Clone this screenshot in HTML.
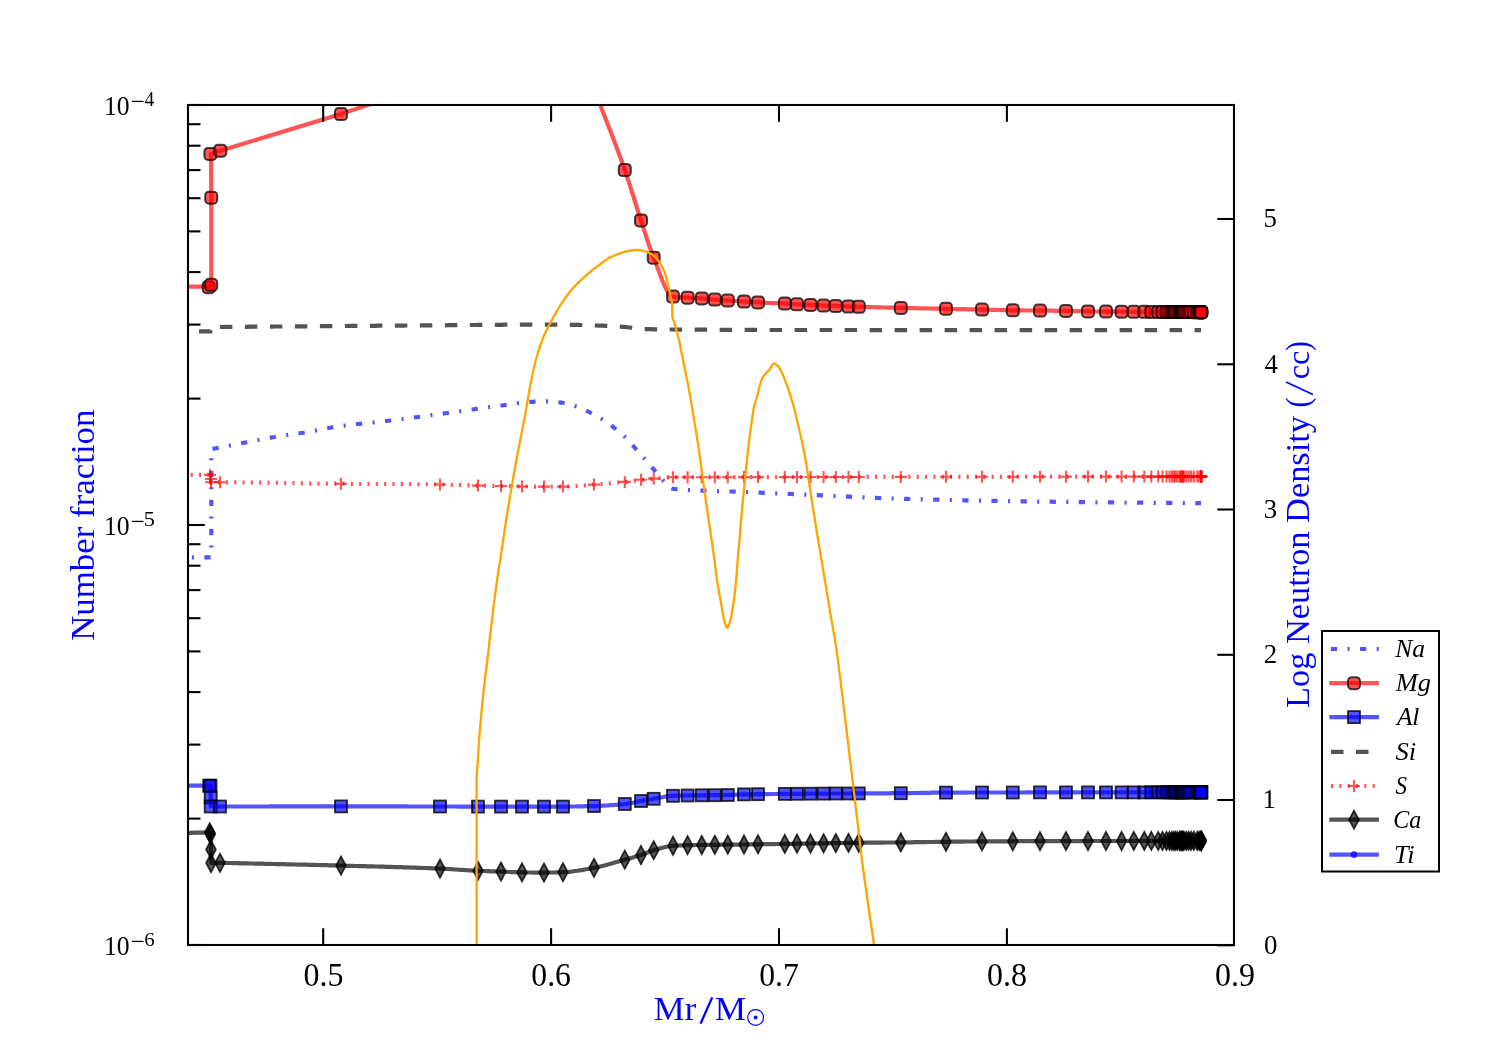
<!DOCTYPE html>
<html><head><meta charset="utf-8"><title>plot</title>
<style>html,body{margin:0;padding:0;background:#fff;width:1500px;height:1050px;overflow:hidden;position:relative;font-family:"Liberation Serif",serif}</style>
</head><body>
<svg width="1500" height="1050" viewBox="0 0 1500 1050" style="position:absolute;left:0;top:0;will-change:transform">
<defs><clipPath id="ax"><rect x="188" y="105" width="1046" height="840"/></clipPath></defs>
<rect width="1500" height="1050" fill="#fff"/>
<g clip-path="url(#ax)">
<path d="M188.0,557.3 L211.3,557.3 L211.3,449.0 L212.0,449.0 L214.0,448.6 L216.0,448.3 L218.0,447.9 L220.0,447.5 L222.0,447.1 L224.1,446.7 L226.1,446.3 L228.1,445.9 L230.1,445.5 L232.2,445.1 L234.2,444.7 L236.2,444.3 L238.2,443.9 L240.3,443.5 L242.3,443.1 L244.3,442.7 L246.3,442.3 L248.4,441.8 L250.4,441.4 L252.4,441.0 L254.5,440.6 L256.5,440.2 L258.5,439.9 L260.5,439.5 L262.6,439.1 L264.6,438.7 L266.6,438.4 L268.6,438.0 L270.7,437.6 L272.7,437.3 L274.7,437.0 L276.8,436.6 L278.8,436.3 L280.9,436.0 L282.9,435.7 L285.0,435.4 L287.0,435.1 L289.0,434.8 L291.1,434.5 L293.1,434.2 L295.2,433.9 L297.2,433.6 L299.3,433.3 L301.3,433.0 L303.4,432.7 L305.5,432.3 L307.6,431.9 L309.7,431.5 L311.7,431.2 L313.8,430.8 L315.9,430.4 L318.0,430.0 L320.1,429.6 L322.2,429.2 L324.3,428.8 L326.4,428.4 L328.5,428.0 L330.6,427.6 L332.6,427.3 L334.7,426.9 L336.8,426.6 L338.9,426.3 L341.0,426.0 L343.1,425.7 L345.1,425.5 L347.2,425.2 L349.3,425.0 L351.3,424.7 L353.4,424.5 L355.4,424.3 L357.5,424.0 L359.6,423.8 L361.6,423.6 L363.7,423.4 L365.8,423.2 L367.8,423.0 L369.9,422.8 L372.0,422.6 L374.0,422.4 L376.1,422.1 L378.1,421.9 L380.2,421.7 L382.3,421.5 L384.3,421.2 L386.4,421.0 L388.5,420.8 L390.5,420.5 L392.6,420.3 L394.6,420.0 L396.7,419.7 L398.8,419.5 L400.8,419.2 L402.9,419.0 L405.0,418.7 L407.0,418.4 L409.1,418.2 L411.1,417.9 L413.2,417.6 L415.3,417.3 L417.3,417.1 L419.4,416.8 L421.4,416.5 L423.5,416.2 L425.6,416.0 L427.6,415.7 L429.7,415.4 L431.8,415.1 L433.8,414.8 L435.9,414.6 L437.9,414.3 L440.0,414.0 L442.0,413.7 L444.0,413.4 L446.0,413.2 L448.0,412.9 L450.0,412.6 L452.0,412.3 L454.0,412.0 L456.0,411.8 L458.0,411.5 L460.0,411.2 L462.0,410.9 L464.0,410.6 L466.0,410.3 L468.0,410.0 L470.0,409.8 L472.0,409.5 L474.0,409.2 L476.1,408.9 L478.2,408.6 L480.4,408.3 L482.5,408.0 L484.6,407.7 L486.7,407.4 L488.9,407.2 L491.0,406.9 L493.1,406.6 L495.2,406.3 L497.3,406.0 L499.5,405.7 L501.6,405.5 L503.7,405.2 L505.8,404.9 L507.8,404.7 L509.9,404.4 L511.9,404.1 L514.0,403.8 L516.0,403.5 L518.1,403.2 L520.2,403.0 L522.2,402.7 L524.3,402.5 L526.3,402.3 L528.4,402.1 L530.4,401.9 L532.5,401.8 L534.6,401.7 L536.8,401.6 L538.9,401.5 L541.1,401.4 L543.2,401.4 L545.4,401.3 L547.5,401.3 L549.8,401.4 L552.1,401.5 L554.4,401.7 L556.7,402.0 L559.0,402.3 L561.3,402.6 L563.6,403.0 L565.9,403.4 L568.1,404.0 L570.4,404.6 L572.7,405.3 L575.0,406.0 L577.0,406.7 L579.0,407.4 L581.0,408.3 L583.0,409.2 L585.0,410.1 L587.0,411.0 L589.0,412.0 L591.0,413.0 L593.0,414.0 L595.0,415.1 L597.0,416.2 L599.0,417.3 L601.0,418.5 L603.1,419.8 L605.2,421.2 L607.3,422.6 L609.4,424.2 L611.5,425.7 L613.6,427.3 L615.9,429.1 L618.2,430.9 L620.4,432.9 L622.7,434.9 L625.0,437.0 L627.5,439.5 L630.0,442.2 L632.4,445.0 L634.9,447.8 L637.2,450.4 L639.6,453.1 L641.9,455.8 L644.3,458.5 L646.7,461.3 L649.1,464.0 L651.5,466.8 L653.9,469.6 L656.3,472.5 L658.7,475.5 L661.1,478.4 L663.5,481.0 L665.6,483.3 L667.8,485.7 L669.9,487.6 L672.0,488.6 L674.1,489.0 L676.3,489.2 L678.4,489.4 L680.6,489.6 L682.7,489.8 L684.9,489.9 L687.0,490.0 L689.0,490.1 L691.0,490.2 L693.0,490.3 L695.0,490.4 L697.0,490.5 L699.0,490.5 L701.0,490.6 L703.0,490.7 L705.0,490.7 L707.0,490.8 L709.0,490.9 L711.0,490.9 L713.0,491.0 L715.0,491.0 L717.0,491.1 L719.0,491.2 L721.0,491.2 L723.0,491.3 L725.0,491.3 L727.0,491.4 L729.0,491.5 L731.0,491.5 L733.0,491.6 L735.0,491.7 L737.0,491.8 L739.0,491.8 L741.0,491.9 L743.0,492.0 L745.0,492.1 L747.0,492.1 L749.0,492.2 L751.0,492.3 L753.0,492.4 L755.0,492.5 L757.0,492.5 L759.0,492.6 L761.0,492.7 L763.0,492.8 L765.0,492.9 L767.0,493.0 L769.0,493.0 L771.0,493.1 L773.0,493.2 L775.0,493.3 L777.0,493.4 L779.0,493.5 L781.0,493.5 L783.0,493.6 L785.0,493.7 L787.0,493.8 L789.0,493.9 L791.0,494.0 L793.0,494.1 L795.0,494.1 L797.0,494.2 L799.0,494.3 L801.0,494.4 L803.0,494.5 L805.0,494.6 L807.0,494.7 L809.0,494.8 L811.0,494.8 L813.0,494.9 L815.0,495.0 L817.0,495.1 L819.0,495.2 L821.1,495.3 L823.1,495.4 L825.2,495.5 L827.2,495.6 L829.3,495.7 L831.4,495.8 L833.4,495.9 L835.5,496.0 L837.6,496.1 L839.6,496.2 L841.7,496.3 L843.7,496.4 L845.8,496.5 L847.9,496.6 L849.9,496.7 L852.0,496.8 L854.1,496.9 L856.1,497.0 L858.2,497.1 L860.2,497.2 L862.3,497.3 L864.4,497.4 L866.4,497.5 L868.5,497.6 L870.6,497.7 L872.6,497.8 L874.7,497.8 L876.7,497.9 L878.8,498.0 L880.9,498.1 L882.9,498.1 L885.0,498.2 L887.0,498.3 L889.1,498.4 L891.2,498.4 L893.2,498.5 L895.3,498.6 L897.3,498.6 L899.4,498.7 L901.5,498.8 L903.5,498.8 L905.6,498.9 L907.6,498.9 L909.7,499.0 L911.8,499.1 L913.8,499.1 L915.9,499.2 L918.0,499.2 L920.0,499.3 L922.1,499.3 L924.1,499.4 L926.2,499.4 L928.3,499.5 L930.3,499.5 L932.4,499.6 L934.4,499.6 L936.5,499.7 L938.5,499.7 L940.6,499.8 L942.6,499.8 L944.7,499.9 L946.7,499.9 L948.8,500.0 L950.8,500.0 L952.9,500.1 L954.9,500.1 L957.0,500.2 L959.0,500.2 L961.1,500.3 L963.1,500.3 L965.2,500.4 L967.2,500.4 L969.3,500.4 L971.3,500.5 L973.4,500.5 L975.4,500.6 L977.5,500.6 L979.5,500.6 L981.6,500.7 L983.6,500.7 L985.7,500.8 L987.7,500.8 L989.8,500.8 L991.8,500.9 L993.9,500.9 L995.9,500.9 L998.0,501.0 L1000.0,501.0 L1002.0,501.0 L1004.0,501.1 L1006.0,501.1 L1008.0,501.1 L1010.0,501.2 L1012.0,501.2 L1014.0,501.2 L1016.0,501.2 L1018.0,501.3 L1020.0,501.3 L1022.0,501.3 L1024.0,501.4 L1026.0,501.4 L1028.0,501.4 L1030.0,501.5 L1032.0,501.5 L1034.0,501.5 L1036.0,501.5 L1038.0,501.6 L1040.0,501.6 L1042.0,501.6 L1044.0,501.6 L1046.0,501.7 L1048.0,501.7 L1050.0,501.7 L1052.0,501.7 L1054.0,501.8 L1056.0,501.8 L1058.0,501.8 L1060.0,501.8 L1062.0,501.9 L1064.0,501.9 L1066.0,501.9 L1068.0,501.9 L1070.0,502.0 L1072.0,502.0 L1074.0,502.0 L1076.0,502.0 L1078.0,502.1 L1080.0,502.1 L1082.0,502.1 L1084.0,502.1 L1086.0,502.1 L1088.0,502.2 L1090.0,502.2 L1092.0,502.2 L1094.0,502.2 L1096.0,502.3 L1098.0,502.3 L1100.0,502.3 L1102.0,502.3 L1104.0,502.3 L1106.1,502.4 L1108.1,502.4 L1110.1,502.4 L1112.1,502.4 L1114.1,502.4 L1116.2,502.5 L1118.2,502.5 L1120.2,502.5 L1122.2,502.5 L1124.2,502.5 L1126.3,502.6 L1128.3,502.6 L1130.3,502.6 L1132.3,502.6 L1134.3,502.6 L1136.4,502.6 L1138.4,502.7 L1140.4,502.7 L1142.4,502.7 L1144.4,502.7 L1146.5,502.7 L1148.5,502.8 L1150.5,502.8 L1152.5,502.8 L1154.5,502.8 L1156.6,502.8 L1158.6,502.8 L1160.6,502.9 L1162.6,502.9 L1164.6,502.9 L1166.7,502.9 L1168.7,502.9 L1170.7,502.9 L1172.7,503.0 L1174.7,503.0 L1176.8,503.0 L1178.8,503.0 L1180.8,503.0 L1182.8,503.0 L1184.8,503.1 L1186.9,503.1 L1188.9,503.1 L1190.9,503.1 L1192.9,503.1 L1194.9,503.1 L1197.0,503.2 L1199.0,503.2 L1201.0,503.2" fill="none" stroke="#0000ff" stroke-opacity="0.67" stroke-width="4.17" stroke-dasharray="6.25 10.4 2.08 10.4" stroke-dashoffset="12.8"/>
<path d="M188.0,286.7 L209.0,286.7 L211.3,285.0 L211.3,197.7 L211.0,154.0 L220.3,150.7 L341.0,114.0 L400.0,94.2" fill="none" stroke="#ff0000" stroke-opacity="0.67" stroke-width="4.17" stroke-linejoin="round"/>
<path d="M591.5,80.0 L593.7,86.3 L595.9,92.6 L598.1,98.9 L600.3,105.0 L602.3,110.4 L604.4,115.7 L606.4,120.8 L608.4,126.0 L610.5,131.2 L612.5,136.5 L614.5,141.9 L616.6,147.4 L618.6,152.9 L620.7,158.5 L622.8,164.2 L624.8,170.0 L626.8,176.0 L628.9,182.3 L630.9,188.6 L633.0,195.1 L635.0,201.6 L637.0,208.1 L639.1,214.5 L641.1,220.7 L643.2,227.1 L645.3,233.6 L647.4,240.1 L649.5,246.4 L651.6,252.3 L653.7,257.7 L655.8,263.1 L657.9,268.7 L660.0,274.5 L662.1,280.0 L664.3,285.1 L666.4,289.6 L668.5,293.1 L670.6,295.5 L672.7,296.6 L674.8,296.9 L676.9,297.1 L679.0,297.2 L681.2,297.4 L683.3,297.5 L685.4,297.6 L687.5,297.7 L689.5,297.8 L691.6,297.9 L693.6,298.0 L695.6,298.1 L697.6,298.2 L699.7,298.3 L701.7,298.4 L703.8,298.6 L706.0,298.7 L708.1,298.9 L710.2,299.1 L712.4,299.3 L714.5,299.5 L716.7,299.7 L718.9,299.9 L721.1,300.0 L723.3,300.2 L725.5,300.3 L727.7,300.5 L729.8,300.6 L731.8,300.8 L733.9,300.9 L736.0,301.0 L738.0,301.1 L740.1,301.3 L742.1,301.4 L744.2,301.5 L746.5,301.6 L748.8,301.8 L751.1,302.0 L753.4,302.1 L755.7,302.3 L758.0,302.4 L760.1,302.5 L762.1,302.6 L764.2,302.7 L766.3,302.8 L768.3,302.9 L770.4,303.0 L772.5,303.1 L774.6,303.1 L776.6,303.2 L778.7,303.3 L780.8,303.4 L782.8,303.5 L784.9,303.6 L786.9,303.7 L788.9,303.8 L791.0,304.0 L793.0,304.1 L795.0,304.2 L797.0,304.3 L799.2,304.4 L801.5,304.5 L803.7,304.6 L805.9,304.7 L808.2,304.8 L810.4,304.9 L812.6,305.0 L814.8,305.1 L817.0,305.3 L819.2,305.4 L821.4,305.5 L823.6,305.6 L825.6,305.7 L827.6,305.7 L829.7,305.8 L831.7,305.9 L833.7,305.9 L835.7,306.0 L837.9,306.1 L840.0,306.2 L842.2,306.3 L844.4,306.3 L846.5,306.4 L848.7,306.5 L851.2,306.6 L853.7,306.7 L856.1,306.7 L858.6,306.8 L860.6,306.9 L862.6,306.9 L864.6,307.0 L866.6,307.0 L868.6,307.1 L870.6,307.1 L872.6,307.2 L874.6,307.2 L876.6,307.3 L878.6,307.4 L880.7,307.4 L882.7,307.5 L884.7,307.5 L886.7,307.6 L888.7,307.6 L890.7,307.7 L892.7,307.7 L894.7,307.8 L896.7,307.8 L898.7,307.9 L900.7,307.9 L902.8,307.9 L904.8,308.0 L906.9,308.0 L908.9,308.1 L911.0,308.1 L913.0,308.2 L915.1,308.2 L917.1,308.2 L919.1,308.3 L921.2,308.3 L923.2,308.4 L925.3,308.4 L927.4,308.4 L929.4,308.5 L931.4,308.5 L933.5,308.6 L935.5,308.6 L937.6,308.6 L939.6,308.7 L941.7,308.7 L943.8,308.8 L945.8,308.8 L947.8,308.8 L949.8,308.9 L951.8,308.9 L953.8,309.0 L955.9,309.0 L957.9,309.1 L959.9,309.1 L961.9,309.1 L963.9,309.2 L965.9,309.2 L967.9,309.3 L969.9,309.3 L971.9,309.4 L974.0,309.4 L976.0,309.5 L978.0,309.5 L980.0,309.6 L982.0,309.6 L984.1,309.6 L986.1,309.7 L988.2,309.7 L990.2,309.8 L992.3,309.8 L994.3,309.9 L996.4,310.0 L998.4,310.0 L1000.5,310.1 L1002.5,310.1 L1004.6,310.1 L1006.6,310.2 L1008.7,310.2 L1010.7,310.3 L1012.8,310.3 L1014.9,310.3 L1017.0,310.4 L1019.0,310.4 L1021.1,310.4 L1023.2,310.4 L1025.3,310.5 L1027.3,310.5 L1029.4,310.5 L1031.5,310.5 L1033.6,310.5 L1035.6,310.6 L1037.7,310.6 L1039.8,310.6 L1042.0,310.6 L1044.1,310.6 L1046.2,310.7 L1048.4,310.7 L1050.5,310.7 L1052.7,310.7 L1054.8,310.8 L1057.0,310.8 L1059.1,310.8 L1061.3,310.8 L1063.4,310.9 L1065.6,310.9 L1067.8,310.9 L1070.0,311.0 L1072.1,311.0 L1074.3,311.1 L1076.5,311.2 L1078.7,311.2 L1080.9,311.3 L1083.0,311.3 L1085.2,311.4 L1087.4,311.4 L1089.5,311.4 L1091.5,311.5 L1093.6,311.5 L1095.7,311.5 L1097.7,311.5 L1099.8,311.5 L1101.9,311.6 L1103.9,311.6 L1106.0,311.6 L1108.0,311.6 L1110.1,311.6 L1112.1,311.6 L1114.1,311.7 L1116.1,311.7 L1118.2,311.7 L1120.2,311.7 L1122.2,311.7 L1124.2,311.7 L1126.3,311.8 L1128.3,311.8 L1130.3,311.8 L1132.3,311.8 L1134.4,311.8 L1136.4,311.8 L1138.4,311.8 L1140.4,311.8 L1142.5,311.9 L1144.5,311.9 L1146.5,311.9 L1148.5,311.9 L1150.6,311.9 L1152.6,311.9 L1154.6,311.9 L1156.6,311.9 L1158.7,312.0 L1160.7,312.0 L1162.7,312.0 L1164.7,312.0 L1166.8,312.0 L1168.8,312.0 L1170.8,312.0 L1172.8,312.0 L1174.9,312.0 L1176.9,312.1 L1178.9,312.1 L1180.9,312.1 L1183.0,312.1 L1185.0,312.1 L1187.0,312.1 L1189.0,312.1 L1191.1,312.1 L1193.1,312.2 L1195.1,312.2 L1197.1,312.2 L1199.2,312.2 L1201.2,312.2" fill="none" stroke="#ff0000" stroke-opacity="0.67" stroke-width="4.17" stroke-linejoin="round"/>
<rect x="202.7" y="281.2" width="12" height="12" rx="3.6" fill="#ff0000" fill-opacity="0.67" stroke="#000" stroke-opacity="0.72" stroke-width="2"/>
<rect x="205.2" y="278.8" width="12" height="12" rx="3.6" fill="#ff0000" fill-opacity="0.67" stroke="#000" stroke-opacity="0.72" stroke-width="2"/>
<rect x="205.2" y="191.7" width="12" height="12" rx="3.6" fill="#ff0000" fill-opacity="0.67" stroke="#000" stroke-opacity="0.72" stroke-width="2"/>
<rect x="204.4" y="147.9" width="12" height="12" rx="3.6" fill="#ff0000" fill-opacity="0.67" stroke="#000" stroke-opacity="0.72" stroke-width="2"/>
<rect x="214.3" y="144.7" width="12" height="12" rx="3.6" fill="#ff0000" fill-opacity="0.67" stroke="#000" stroke-opacity="0.72" stroke-width="2"/>
<rect x="335.0" y="108.0" width="12" height="12" rx="3.6" fill="#ff0000" fill-opacity="0.67" stroke="#000" stroke-opacity="0.72" stroke-width="2"/>
<rect x="618.8" y="164.0" width="12" height="12" rx="3.6" fill="#ff0000" fill-opacity="0.67" stroke="#000" stroke-opacity="0.72" stroke-width="2"/>
<rect x="635.0" y="214.4" width="12" height="12" rx="3.6" fill="#ff0000" fill-opacity="0.67" stroke="#000" stroke-opacity="0.72" stroke-width="2"/>
<rect x="647.7" y="251.7" width="12" height="12" rx="3.6" fill="#ff0000" fill-opacity="0.67" stroke="#000" stroke-opacity="0.72" stroke-width="2"/>
<rect x="667.0" y="290.6" width="12" height="12" rx="3.6" fill="#ff0000" fill-opacity="0.67" stroke="#000" stroke-opacity="0.72" stroke-width="2"/>
<rect x="681.6" y="291.7" width="12" height="12" rx="3.6" fill="#ff0000" fill-opacity="0.67" stroke="#000" stroke-opacity="0.72" stroke-width="2"/>
<rect x="695.8" y="292.4" width="12" height="12" rx="3.6" fill="#ff0000" fill-opacity="0.67" stroke="#000" stroke-opacity="0.72" stroke-width="2"/>
<rect x="708.8" y="293.5" width="12" height="12" rx="3.6" fill="#ff0000" fill-opacity="0.67" stroke="#000" stroke-opacity="0.72" stroke-width="2"/>
<rect x="721.8" y="294.5" width="12" height="12" rx="3.6" fill="#ff0000" fill-opacity="0.67" stroke="#000" stroke-opacity="0.72" stroke-width="2"/>
<rect x="738.0" y="295.5" width="12" height="12" rx="3.6" fill="#ff0000" fill-opacity="0.67" stroke="#000" stroke-opacity="0.72" stroke-width="2"/>
<rect x="752.0" y="296.4" width="12" height="12" rx="3.6" fill="#ff0000" fill-opacity="0.67" stroke="#000" stroke-opacity="0.72" stroke-width="2"/>
<rect x="778.8" y="297.6" width="12" height="12" rx="3.6" fill="#ff0000" fill-opacity="0.67" stroke="#000" stroke-opacity="0.72" stroke-width="2"/>
<rect x="791.0" y="298.3" width="12" height="12" rx="3.6" fill="#ff0000" fill-opacity="0.67" stroke="#000" stroke-opacity="0.72" stroke-width="2"/>
<rect x="804.5" y="298.9" width="12" height="12" rx="3.6" fill="#ff0000" fill-opacity="0.67" stroke="#000" stroke-opacity="0.72" stroke-width="2"/>
<rect x="817.6" y="299.6" width="12" height="12" rx="3.6" fill="#ff0000" fill-opacity="0.67" stroke="#000" stroke-opacity="0.72" stroke-width="2"/>
<rect x="829.8" y="300.0" width="12" height="12" rx="3.6" fill="#ff0000" fill-opacity="0.67" stroke="#000" stroke-opacity="0.72" stroke-width="2"/>
<rect x="842.5" y="300.5" width="12" height="12" rx="3.6" fill="#ff0000" fill-opacity="0.67" stroke="#000" stroke-opacity="0.72" stroke-width="2"/>
<rect x="852.8" y="300.8" width="12" height="12" rx="3.6" fill="#ff0000" fill-opacity="0.67" stroke="#000" stroke-opacity="0.72" stroke-width="2"/>
<rect x="894.8" y="301.9" width="12" height="12" rx="3.6" fill="#ff0000" fill-opacity="0.67" stroke="#000" stroke-opacity="0.72" stroke-width="2"/>
<rect x="940.0" y="302.8" width="12" height="12" rx="3.6" fill="#ff0000" fill-opacity="0.67" stroke="#000" stroke-opacity="0.72" stroke-width="2"/>
<rect x="976.0" y="303.6" width="12" height="12" rx="3.6" fill="#ff0000" fill-opacity="0.67" stroke="#000" stroke-opacity="0.72" stroke-width="2"/>
<rect x="1006.8" y="304.3" width="12" height="12" rx="3.6" fill="#ff0000" fill-opacity="0.67" stroke="#000" stroke-opacity="0.72" stroke-width="2"/>
<rect x="1034.0" y="304.6" width="12" height="12" rx="3.6" fill="#ff0000" fill-opacity="0.67" stroke="#000" stroke-opacity="0.72" stroke-width="2"/>
<rect x="1060.0" y="304.9" width="12" height="12" rx="3.6" fill="#ff0000" fill-opacity="0.67" stroke="#000" stroke-opacity="0.72" stroke-width="2"/>
<rect x="1082.0" y="305.4" width="12" height="12" rx="3.6" fill="#ff0000" fill-opacity="0.67" stroke="#000" stroke-opacity="0.72" stroke-width="2"/>
<rect x="1100.0" y="305.6" width="12" height="12" rx="3.6" fill="#ff0000" fill-opacity="0.67" stroke="#000" stroke-opacity="0.72" stroke-width="2"/>
<rect x="1115.6" y="305.7" width="12" height="12" rx="3.6" fill="#ff0000" fill-opacity="0.67" stroke="#000" stroke-opacity="0.72" stroke-width="2"/>
<rect x="1127.8" y="305.8" width="12" height="12" rx="3.6" fill="#ff0000" fill-opacity="0.67" stroke="#000" stroke-opacity="0.72" stroke-width="2"/>
<rect x="1138.3" y="305.8" width="12" height="12" rx="3.6" fill="#ff0000" fill-opacity="0.67" stroke="#000" stroke-opacity="0.72" stroke-width="2"/>
<rect x="1145.3" y="305.9" width="12" height="12" rx="3.6" fill="#ff0000" fill-opacity="0.67" stroke="#000" stroke-opacity="0.72" stroke-width="2"/>
<rect x="1152.2" y="305.9" width="12" height="12" rx="3.6" fill="#ff0000" fill-opacity="0.67" stroke="#000" stroke-opacity="0.72" stroke-width="2"/>
<rect x="1156.5" y="306.0" width="12" height="12" rx="3.6" fill="#ff0000" fill-opacity="0.67" stroke="#000" stroke-opacity="0.72" stroke-width="2"/>
<rect x="1160.5" y="306.0" width="12" height="12" rx="3.6" fill="#ff0000" fill-opacity="0.67" stroke="#000" stroke-opacity="0.72" stroke-width="2"/>
<rect x="1163.5" y="306.0" width="12" height="12" rx="3.6" fill="#ff0000" fill-opacity="0.67" stroke="#000" stroke-opacity="0.72" stroke-width="2"/>
<rect x="1165.9" y="306.0" width="12" height="12" rx="3.6" fill="#ff0000" fill-opacity="0.67" stroke="#000" stroke-opacity="0.72" stroke-width="2"/>
<rect x="1167.9" y="306.0" width="12" height="12" rx="3.6" fill="#ff0000" fill-opacity="0.67" stroke="#000" stroke-opacity="0.72" stroke-width="2"/>
<rect x="1169.3" y="306.0" width="12" height="12" rx="3.6" fill="#ff0000" fill-opacity="0.67" stroke="#000" stroke-opacity="0.72" stroke-width="2"/>
<rect x="1171.2" y="306.0" width="12" height="12" rx="3.6" fill="#ff0000" fill-opacity="0.67" stroke="#000" stroke-opacity="0.72" stroke-width="2"/>
<rect x="1173.5" y="306.1" width="12" height="12" rx="3.6" fill="#ff0000" fill-opacity="0.67" stroke="#000" stroke-opacity="0.72" stroke-width="2"/>
<rect x="1174.5" y="306.1" width="12" height="12" rx="3.6" fill="#ff0000" fill-opacity="0.67" stroke="#000" stroke-opacity="0.72" stroke-width="2"/>
<rect x="1175.3" y="306.1" width="12" height="12" rx="3.6" fill="#ff0000" fill-opacity="0.67" stroke="#000" stroke-opacity="0.72" stroke-width="2"/>
<rect x="1176.2" y="306.1" width="12" height="12" rx="3.6" fill="#ff0000" fill-opacity="0.67" stroke="#000" stroke-opacity="0.72" stroke-width="2"/>
<rect x="1177.0" y="306.1" width="12" height="12" rx="3.6" fill="#ff0000" fill-opacity="0.67" stroke="#000" stroke-opacity="0.72" stroke-width="2"/>
<rect x="1177.9" y="306.1" width="12" height="12" rx="3.6" fill="#ff0000" fill-opacity="0.67" stroke="#000" stroke-opacity="0.72" stroke-width="2"/>
<rect x="1180.3" y="306.1" width="12" height="12" rx="3.6" fill="#ff0000" fill-opacity="0.67" stroke="#000" stroke-opacity="0.72" stroke-width="2"/>
<rect x="1182.7" y="306.1" width="12" height="12" rx="3.6" fill="#ff0000" fill-opacity="0.67" stroke="#000" stroke-opacity="0.72" stroke-width="2"/>
<rect x="1185.1" y="306.1" width="12" height="12" rx="3.6" fill="#ff0000" fill-opacity="0.67" stroke="#000" stroke-opacity="0.72" stroke-width="2"/>
<rect x="1187.9" y="306.2" width="12" height="12" rx="3.6" fill="#ff0000" fill-opacity="0.67" stroke="#000" stroke-opacity="0.72" stroke-width="2"/>
<rect x="1191.3" y="306.2" width="12" height="12" rx="3.6" fill="#ff0000" fill-opacity="0.67" stroke="#000" stroke-opacity="0.72" stroke-width="2"/>
<rect x="1193.2" y="306.2" width="12" height="12" rx="3.6" fill="#ff0000" fill-opacity="0.67" stroke="#000" stroke-opacity="0.72" stroke-width="2"/>
<rect x="1195.2" y="306.2" width="12" height="12" rx="3.6" fill="#ff0000" fill-opacity="0.67" stroke="#000" stroke-opacity="0.72" stroke-width="2"/>
<rect x="1195.2" y="306.2" width="12" height="12" rx="3.6" fill="#ff0000" fill-opacity="0.67" stroke="#000" stroke-opacity="0.72" stroke-width="2"/>
<rect x="1195.2" y="306.2" width="12" height="12" rx="3.6" fill="#ff0000" fill-opacity="0.67" stroke="#000" stroke-opacity="0.72" stroke-width="2"/>
<rect x="1195.2" y="306.2" width="12" height="12" rx="3.6" fill="#ff0000" fill-opacity="0.67" stroke="#000" stroke-opacity="0.72" stroke-width="2"/>
<rect x="1195.2" y="306.2" width="12" height="12" rx="3.6" fill="#ff0000" fill-opacity="0.67" stroke="#000" stroke-opacity="0.72" stroke-width="2"/>
<rect x="1195.2" y="306.2" width="12" height="12" rx="3.6" fill="#ff0000" fill-opacity="0.67" stroke="#000" stroke-opacity="0.72" stroke-width="2"/>
<path d="M188.0,785.7 L209.2,785.7 L210.5,785.7 L210.7,797.5 L210.7,806.5 L220.0,806.5 L222.0,806.5 L224.0,806.5 L226.1,806.5 L228.1,806.5 L230.1,806.5 L232.1,806.5 L234.1,806.5 L236.1,806.5 L238.2,806.5 L240.2,806.5 L242.2,806.5 L244.2,806.5 L246.2,806.5 L248.2,806.5 L250.2,806.5 L252.3,806.5 L254.3,806.5 L256.3,806.5 L258.3,806.5 L260.3,806.5 L262.4,806.5 L264.4,806.5 L266.4,806.5 L268.4,806.5 L270.4,806.4 L272.4,806.4 L274.4,806.4 L276.5,806.4 L278.5,806.4 L280.5,806.4 L282.5,806.4 L284.5,806.4 L286.6,806.4 L288.6,806.4 L290.6,806.4 L292.6,806.4 L294.6,806.4 L296.6,806.4 L298.6,806.4 L300.7,806.4 L302.7,806.4 L304.7,806.4 L306.7,806.4 L308.7,806.4 L310.8,806.4 L312.8,806.4 L314.8,806.4 L316.8,806.4 L318.8,806.4 L320.8,806.4 L322.9,806.4 L324.9,806.4 L326.9,806.4 L328.9,806.4 L330.9,806.4 L332.9,806.4 L334.9,806.4 L337.0,806.4 L339.0,806.4 L341.0,806.4 L343.0,806.4 L345.0,806.4 L347.1,806.4 L349.1,806.4 L351.1,806.4 L353.1,806.4 L355.1,806.4 L357.2,806.4 L359.2,806.4 L361.2,806.4 L363.2,806.4 L365.2,806.4 L367.3,806.4 L369.3,806.4 L371.3,806.4 L373.3,806.4 L375.3,806.4 L377.4,806.4 L379.4,806.4 L381.4,806.4 L383.4,806.4 L385.4,806.4 L387.5,806.4 L389.5,806.4 L391.5,806.4 L393.5,806.4 L395.6,806.4 L397.6,806.4 L399.6,806.4 L401.6,806.4 L403.6,806.4 L405.7,806.4 L407.7,806.5 L409.7,806.5 L411.7,806.5 L413.7,806.5 L415.8,806.5 L417.8,806.5 L419.8,806.5 L421.8,806.5 L423.8,806.5 L425.9,806.5 L427.9,806.5 L429.9,806.5 L431.9,806.5 L433.9,806.5 L436.0,806.5 L438.0,806.5 L440.0,806.5 L442.0,806.5 L444.0,806.5 L446.0,806.5 L448.0,806.5 L450.0,806.5 L452.0,806.5 L454.0,806.5 L456.0,806.5 L458.0,806.6 L460.0,806.6 L462.0,806.6 L464.0,806.6 L466.0,806.6 L468.0,806.6 L470.0,806.6 L472.0,806.6 L474.0,806.6 L476.0,806.6 L478.0,806.6 L480.0,806.6 L482.0,806.6 L484.1,806.6 L486.1,806.6 L488.1,806.6 L490.1,806.6 L492.2,806.6 L494.2,806.6 L496.2,806.6 L498.2,806.6 L500.3,806.6 L502.3,806.6 L504.3,806.6 L506.3,806.6 L508.4,806.6 L510.4,806.6 L512.4,806.6 L514.4,806.6 L516.5,806.6 L518.5,806.6 L520.5,806.6 L522.5,806.6 L524.5,806.6 L526.6,806.6 L528.6,806.6 L530.6,806.6 L532.6,806.6 L534.7,806.6 L536.7,806.6 L538.7,806.6 L540.7,806.6 L542.8,806.6 L544.8,806.6 L546.8,806.6 L548.8,806.6 L550.9,806.6 L552.9,806.6 L554.9,806.6 L556.9,806.6 L559.0,806.6 L561.0,806.6 L563.0,806.6 L565.1,806.6 L567.1,806.6 L569.2,806.6 L571.3,806.5 L573.3,806.5 L575.4,806.5 L577.5,806.4 L579.5,806.4 L581.6,806.3 L583.7,806.3 L585.7,806.2 L587.8,806.2 L589.9,806.1 L591.9,806.1 L594.0,806.0 L596.1,805.9 L598.1,805.9 L600.2,805.8 L602.3,805.7 L604.3,805.6 L606.4,805.5 L608.5,805.3 L610.5,805.2 L612.6,805.1 L614.7,804.9 L616.7,804.8 L618.8,804.6 L620.9,804.4 L622.9,804.2 L625.0,804.0 L627.0,803.8 L629.0,803.4 L631.0,803.1 L633.0,802.7 L635.0,802.2 L637.0,801.8 L639.0,801.4 L641.0,801.0 L643.1,800.6 L645.2,800.2 L647.3,799.9 L649.4,799.5 L651.5,799.2 L653.6,798.8 L655.8,798.4 L657.9,798.0 L660.1,797.6 L662.2,797.2 L664.4,796.8 L666.5,796.4 L668.7,796.1 L670.8,795.9 L673.0,795.8 L675.1,795.7 L677.2,795.7 L679.3,795.6 L681.3,795.6 L683.4,795.6 L685.5,795.5 L687.6,795.5 L689.6,795.5 L691.6,795.4 L693.7,795.4 L695.7,795.4 L697.7,795.4 L699.7,795.3 L701.7,795.3 L703.8,795.3 L705.8,795.3 L707.8,795.3 L709.8,795.3 L711.8,795.2 L713.9,795.2 L715.9,795.2 L717.9,795.2 L719.9,795.1 L721.9,795.1 L724.0,795.1 L726.0,795.0 L728.0,795.0 L730.0,794.9 L732.0,794.9 L734.0,794.8 L736.0,794.7 L738.0,794.6 L740.0,794.5 L742.0,794.4 L744.0,794.4 L746.0,794.4 L748.0,794.3 L750.1,794.3 L752.1,794.3 L754.1,794.2 L756.1,794.2 L758.1,794.2 L760.1,794.2 L762.2,794.1 L764.2,794.1 L766.2,794.1 L768.2,794.1 L770.2,794.0 L772.2,794.0 L774.3,794.0 L776.3,794.0 L778.3,793.9 L780.3,793.9 L782.3,793.9 L784.4,793.9 L786.4,793.9 L788.4,793.9 L790.4,793.8 L792.4,793.8 L794.4,793.8 L796.5,793.8 L798.5,793.8 L800.5,793.8 L802.5,793.7 L804.5,793.7 L806.5,793.7 L808.6,793.7 L810.6,793.7 L812.6,793.7 L814.6,793.7 L816.6,793.6 L818.6,793.6 L820.7,793.6 L822.7,793.6 L824.7,793.6 L826.7,793.6 L828.7,793.6 L830.8,793.6 L832.8,793.5 L834.8,793.5 L836.8,793.5 L838.8,793.5 L840.8,793.5 L842.9,793.5 L844.9,793.5 L846.9,793.5 L848.9,793.5 L850.9,793.4 L852.9,793.4 L855.0,793.4 L857.0,793.4 L859.0,793.4 L861.0,793.4 L863.1,793.4 L865.1,793.4 L867.2,793.4 L869.2,793.3 L871.3,793.3 L873.4,793.3 L875.4,793.3 L877.5,793.3 L879.5,793.3 L881.5,793.3 L883.6,793.3 L885.6,793.3 L887.7,793.3 L889.8,793.3 L891.8,793.2 L893.9,793.2 L895.9,793.2 L898.0,793.2 L900.0,793.2 L902.0,793.2 L904.0,793.2 L906.0,793.1 L908.0,793.1 L910.0,793.1 L912.0,793.1 L914.0,793.0 L916.0,793.0 L918.0,793.0 L920.0,792.9 L922.0,792.9 L924.0,792.9 L926.0,792.8 L928.0,792.8 L930.0,792.8 L932.0,792.7 L934.0,792.7 L936.0,792.7 L938.0,792.7 L940.0,792.6 L942.0,792.6 L944.0,792.6 L946.0,792.6 L948.0,792.6 L950.0,792.6 L952.0,792.6 L954.0,792.6 L956.0,792.6 L958.0,792.6 L960.1,792.6 L962.1,792.6 L964.1,792.6 L966.1,792.6 L968.1,792.5 L970.1,792.5 L972.1,792.5 L974.1,792.5 L976.1,792.5 L978.1,792.5 L980.1,792.5 L982.1,792.5 L984.1,792.5 L986.2,792.5 L988.2,792.5 L990.2,792.5 L992.2,792.5 L994.2,792.5 L996.2,792.5 L998.2,792.5 L1000.2,792.5 L1002.2,792.5 L1004.2,792.5 L1006.2,792.5 L1008.2,792.5 L1010.3,792.5 L1012.3,792.5 L1014.3,792.5 L1016.3,792.5 L1018.3,792.5 L1020.3,792.5 L1022.3,792.5 L1024.3,792.5 L1026.3,792.4 L1028.3,792.4 L1030.3,792.4 L1032.3,792.4 L1034.3,792.4 L1036.4,792.4 L1038.4,792.4 L1040.4,792.4 L1042.4,792.4 L1044.4,792.4 L1046.4,792.4 L1048.4,792.4 L1050.4,792.4 L1052.4,792.4 L1054.4,792.4 L1056.4,792.4 L1058.4,792.4 L1060.4,792.4 L1062.5,792.4 L1064.5,792.4 L1066.5,792.4 L1068.5,792.4 L1070.5,792.4 L1072.5,792.4 L1074.5,792.4 L1076.5,792.4 L1078.5,792.4 L1080.5,792.4 L1082.5,792.4 L1084.5,792.4 L1086.6,792.4 L1088.6,792.4 L1090.6,792.4 L1092.6,792.4 L1094.6,792.4 L1096.6,792.4 L1098.6,792.4 L1100.6,792.4 L1102.6,792.4 L1104.6,792.4 L1106.6,792.4 L1108.6,792.4 L1110.6,792.4 L1112.7,792.4 L1114.7,792.4 L1116.7,792.4 L1118.7,792.4 L1120.7,792.4 L1122.7,792.4 L1124.7,792.4 L1126.7,792.4 L1128.7,792.4 L1130.7,792.4 L1132.7,792.4 L1134.7,792.4 L1136.7,792.4 L1138.8,792.4 L1140.8,792.4 L1142.8,792.4 L1144.8,792.4 L1146.8,792.4 L1148.8,792.3 L1150.8,792.3 L1152.8,792.3 L1154.8,792.3 L1156.8,792.3 L1158.8,792.3 L1160.8,792.3 L1162.9,792.3 L1164.9,792.3 L1166.9,792.3 L1168.9,792.3 L1170.9,792.3 L1172.9,792.3 L1174.9,792.3 L1176.9,792.3 L1178.9,792.3 L1180.9,792.3 L1182.9,792.3 L1184.9,792.3 L1186.9,792.3 L1189.0,792.3 L1191.0,792.3 L1193.0,792.3 L1195.0,792.3 L1197.0,792.3 L1199.0,792.3 L1201.0,792.3" fill="none" stroke="#0000ff" stroke-opacity="0.67" stroke-width="4.17" stroke-linejoin="round"/>
<rect x="203.2" y="779.7" width="12" height="12" fill="#0000ff" fill-opacity="0.67" stroke="#000" stroke-opacity="0.8" stroke-width="1.8"/>
<rect x="204.5" y="779.7" width="12" height="12" fill="#0000ff" fill-opacity="0.67" stroke="#000" stroke-opacity="0.8" stroke-width="1.8"/>
<rect x="204.7" y="791.5" width="12" height="12" fill="#0000ff" fill-opacity="0.67" stroke="#000" stroke-opacity="0.8" stroke-width="1.8"/>
<rect x="204.7" y="800.5" width="12" height="12" fill="#0000ff" fill-opacity="0.67" stroke="#000" stroke-opacity="0.8" stroke-width="1.8"/>
<rect x="214.0" y="800.5" width="12" height="12" fill="#0000ff" fill-opacity="0.67" stroke="#000" stroke-opacity="0.8" stroke-width="1.8"/>
<rect x="335.0" y="800.4" width="12" height="12" fill="#0000ff" fill-opacity="0.67" stroke="#000" stroke-opacity="0.8" stroke-width="1.8"/>
<rect x="434.0" y="800.5" width="12" height="12" fill="#0000ff" fill-opacity="0.67" stroke="#000" stroke-opacity="0.8" stroke-width="1.8"/>
<rect x="472.0" y="800.6" width="12" height="12" fill="#0000ff" fill-opacity="0.67" stroke="#000" stroke-opacity="0.8" stroke-width="1.8"/>
<rect x="495.0" y="800.6" width="12" height="12" fill="#0000ff" fill-opacity="0.67" stroke="#000" stroke-opacity="0.8" stroke-width="1.8"/>
<rect x="516.0" y="800.6" width="12" height="12" fill="#0000ff" fill-opacity="0.67" stroke="#000" stroke-opacity="0.8" stroke-width="1.8"/>
<rect x="538.0" y="800.6" width="12" height="12" fill="#0000ff" fill-opacity="0.67" stroke="#000" stroke-opacity="0.8" stroke-width="1.8"/>
<rect x="557.0" y="800.6" width="12" height="12" fill="#0000ff" fill-opacity="0.67" stroke="#000" stroke-opacity="0.8" stroke-width="1.8"/>
<rect x="588.0" y="800.0" width="12" height="12" fill="#0000ff" fill-opacity="0.67" stroke="#000" stroke-opacity="0.8" stroke-width="1.8"/>
<rect x="618.8" y="798.0" width="12" height="12" fill="#0000ff" fill-opacity="0.67" stroke="#000" stroke-opacity="0.8" stroke-width="1.8"/>
<rect x="635.0" y="795.0" width="12" height="12" fill="#0000ff" fill-opacity="0.67" stroke="#000" stroke-opacity="0.8" stroke-width="1.8"/>
<rect x="647.7" y="792.8" width="12" height="12" fill="#0000ff" fill-opacity="0.67" stroke="#000" stroke-opacity="0.8" stroke-width="1.8"/>
<rect x="667.0" y="789.8" width="12" height="12" fill="#0000ff" fill-opacity="0.67" stroke="#000" stroke-opacity="0.8" stroke-width="1.8"/>
<rect x="681.6" y="789.5" width="12" height="12" fill="#0000ff" fill-opacity="0.67" stroke="#000" stroke-opacity="0.8" stroke-width="1.8"/>
<rect x="695.8" y="789.3" width="12" height="12" fill="#0000ff" fill-opacity="0.67" stroke="#000" stroke-opacity="0.8" stroke-width="1.8"/>
<rect x="708.8" y="789.2" width="12" height="12" fill="#0000ff" fill-opacity="0.67" stroke="#000" stroke-opacity="0.8" stroke-width="1.8"/>
<rect x="721.8" y="789.0" width="12" height="12" fill="#0000ff" fill-opacity="0.67" stroke="#000" stroke-opacity="0.8" stroke-width="1.8"/>
<rect x="738.0" y="788.4" width="12" height="12" fill="#0000ff" fill-opacity="0.67" stroke="#000" stroke-opacity="0.8" stroke-width="1.8"/>
<rect x="752.0" y="788.2" width="12" height="12" fill="#0000ff" fill-opacity="0.67" stroke="#000" stroke-opacity="0.8" stroke-width="1.8"/>
<rect x="778.8" y="787.9" width="12" height="12" fill="#0000ff" fill-opacity="0.67" stroke="#000" stroke-opacity="0.8" stroke-width="1.8"/>
<rect x="791.0" y="787.8" width="12" height="12" fill="#0000ff" fill-opacity="0.67" stroke="#000" stroke-opacity="0.8" stroke-width="1.8"/>
<rect x="804.5" y="787.7" width="12" height="12" fill="#0000ff" fill-opacity="0.67" stroke="#000" stroke-opacity="0.8" stroke-width="1.8"/>
<rect x="817.6" y="787.6" width="12" height="12" fill="#0000ff" fill-opacity="0.67" stroke="#000" stroke-opacity="0.8" stroke-width="1.8"/>
<rect x="829.8" y="787.5" width="12" height="12" fill="#0000ff" fill-opacity="0.67" stroke="#000" stroke-opacity="0.8" stroke-width="1.8"/>
<rect x="842.5" y="787.5" width="12" height="12" fill="#0000ff" fill-opacity="0.67" stroke="#000" stroke-opacity="0.8" stroke-width="1.8"/>
<rect x="852.8" y="787.4" width="12" height="12" fill="#0000ff" fill-opacity="0.67" stroke="#000" stroke-opacity="0.8" stroke-width="1.8"/>
<rect x="894.8" y="787.2" width="12" height="12" fill="#0000ff" fill-opacity="0.67" stroke="#000" stroke-opacity="0.8" stroke-width="1.8"/>
<rect x="940.0" y="786.6" width="12" height="12" fill="#0000ff" fill-opacity="0.67" stroke="#000" stroke-opacity="0.8" stroke-width="1.8"/>
<rect x="976.0" y="786.5" width="12" height="12" fill="#0000ff" fill-opacity="0.67" stroke="#000" stroke-opacity="0.8" stroke-width="1.8"/>
<rect x="1006.8" y="786.5" width="12" height="12" fill="#0000ff" fill-opacity="0.67" stroke="#000" stroke-opacity="0.8" stroke-width="1.8"/>
<rect x="1034.0" y="786.4" width="12" height="12" fill="#0000ff" fill-opacity="0.67" stroke="#000" stroke-opacity="0.8" stroke-width="1.8"/>
<rect x="1060.0" y="786.4" width="12" height="12" fill="#0000ff" fill-opacity="0.67" stroke="#000" stroke-opacity="0.8" stroke-width="1.8"/>
<rect x="1082.0" y="786.4" width="12" height="12" fill="#0000ff" fill-opacity="0.67" stroke="#000" stroke-opacity="0.8" stroke-width="1.8"/>
<rect x="1100.0" y="786.4" width="12" height="12" fill="#0000ff" fill-opacity="0.67" stroke="#000" stroke-opacity="0.8" stroke-width="1.8"/>
<rect x="1115.6" y="786.4" width="12" height="12" fill="#0000ff" fill-opacity="0.67" stroke="#000" stroke-opacity="0.8" stroke-width="1.8"/>
<rect x="1127.8" y="786.4" width="12" height="12" fill="#0000ff" fill-opacity="0.67" stroke="#000" stroke-opacity="0.8" stroke-width="1.8"/>
<rect x="1138.3" y="786.4" width="12" height="12" fill="#0000ff" fill-opacity="0.67" stroke="#000" stroke-opacity="0.8" stroke-width="1.8"/>
<rect x="1145.3" y="786.3" width="12" height="12" fill="#0000ff" fill-opacity="0.67" stroke="#000" stroke-opacity="0.8" stroke-width="1.8"/>
<rect x="1152.2" y="786.3" width="12" height="12" fill="#0000ff" fill-opacity="0.67" stroke="#000" stroke-opacity="0.8" stroke-width="1.8"/>
<rect x="1156.5" y="786.3" width="12" height="12" fill="#0000ff" fill-opacity="0.67" stroke="#000" stroke-opacity="0.8" stroke-width="1.8"/>
<rect x="1160.5" y="786.3" width="12" height="12" fill="#0000ff" fill-opacity="0.67" stroke="#000" stroke-opacity="0.8" stroke-width="1.8"/>
<rect x="1163.5" y="786.3" width="12" height="12" fill="#0000ff" fill-opacity="0.67" stroke="#000" stroke-opacity="0.8" stroke-width="1.8"/>
<rect x="1165.9" y="786.3" width="12" height="12" fill="#0000ff" fill-opacity="0.67" stroke="#000" stroke-opacity="0.8" stroke-width="1.8"/>
<rect x="1167.9" y="786.3" width="12" height="12" fill="#0000ff" fill-opacity="0.67" stroke="#000" stroke-opacity="0.8" stroke-width="1.8"/>
<rect x="1169.3" y="786.3" width="12" height="12" fill="#0000ff" fill-opacity="0.67" stroke="#000" stroke-opacity="0.8" stroke-width="1.8"/>
<rect x="1171.2" y="786.3" width="12" height="12" fill="#0000ff" fill-opacity="0.67" stroke="#000" stroke-opacity="0.8" stroke-width="1.8"/>
<rect x="1173.5" y="786.3" width="12" height="12" fill="#0000ff" fill-opacity="0.67" stroke="#000" stroke-opacity="0.8" stroke-width="1.8"/>
<rect x="1174.5" y="786.3" width="12" height="12" fill="#0000ff" fill-opacity="0.67" stroke="#000" stroke-opacity="0.8" stroke-width="1.8"/>
<rect x="1175.3" y="786.3" width="12" height="12" fill="#0000ff" fill-opacity="0.67" stroke="#000" stroke-opacity="0.8" stroke-width="1.8"/>
<rect x="1176.2" y="786.3" width="12" height="12" fill="#0000ff" fill-opacity="0.67" stroke="#000" stroke-opacity="0.8" stroke-width="1.8"/>
<rect x="1177.0" y="786.3" width="12" height="12" fill="#0000ff" fill-opacity="0.67" stroke="#000" stroke-opacity="0.8" stroke-width="1.8"/>
<rect x="1177.9" y="786.3" width="12" height="12" fill="#0000ff" fill-opacity="0.67" stroke="#000" stroke-opacity="0.8" stroke-width="1.8"/>
<rect x="1180.3" y="786.3" width="12" height="12" fill="#0000ff" fill-opacity="0.67" stroke="#000" stroke-opacity="0.8" stroke-width="1.8"/>
<rect x="1182.7" y="786.3" width="12" height="12" fill="#0000ff" fill-opacity="0.67" stroke="#000" stroke-opacity="0.8" stroke-width="1.8"/>
<rect x="1185.1" y="786.3" width="12" height="12" fill="#0000ff" fill-opacity="0.67" stroke="#000" stroke-opacity="0.8" stroke-width="1.8"/>
<rect x="1187.9" y="786.3" width="12" height="12" fill="#0000ff" fill-opacity="0.67" stroke="#000" stroke-opacity="0.8" stroke-width="1.8"/>
<rect x="1191.3" y="786.3" width="12" height="12" fill="#0000ff" fill-opacity="0.67" stroke="#000" stroke-opacity="0.8" stroke-width="1.8"/>
<rect x="1193.2" y="786.3" width="12" height="12" fill="#0000ff" fill-opacity="0.67" stroke="#000" stroke-opacity="0.8" stroke-width="1.8"/>
<rect x="1195.2" y="786.3" width="12" height="12" fill="#0000ff" fill-opacity="0.67" stroke="#000" stroke-opacity="0.8" stroke-width="1.8"/>
<rect x="1195.2" y="786.3" width="12" height="12" fill="#0000ff" fill-opacity="0.67" stroke="#000" stroke-opacity="0.8" stroke-width="1.8"/>
<rect x="1195.2" y="786.3" width="12" height="12" fill="#0000ff" fill-opacity="0.67" stroke="#000" stroke-opacity="0.8" stroke-width="1.8"/>
<rect x="1195.2" y="786.3" width="12" height="12" fill="#0000ff" fill-opacity="0.67" stroke="#000" stroke-opacity="0.8" stroke-width="1.8"/>
<rect x="1195.2" y="786.3" width="12" height="12" fill="#0000ff" fill-opacity="0.67" stroke="#000" stroke-opacity="0.8" stroke-width="1.8"/>
<rect x="1195.2" y="786.3" width="12" height="12" fill="#0000ff" fill-opacity="0.67" stroke="#000" stroke-opacity="0.8" stroke-width="1.8"/>
<path d="M188.0,331.4 L210.3,331.4 L210.6,327.0 L220.0,327.0 L222.0,327.0 L224.0,327.0 L226.1,326.9 L228.1,326.9 L230.1,326.9 L232.1,326.9 L234.1,326.9 L236.1,326.9 L238.2,326.8 L240.2,326.8 L242.2,326.8 L244.2,326.8 L246.2,326.8 L248.2,326.8 L250.2,326.7 L252.3,326.7 L254.3,326.7 L256.3,326.7 L258.3,326.7 L260.3,326.7 L262.4,326.6 L264.4,326.6 L266.4,326.6 L268.4,326.6 L270.4,326.6 L272.4,326.6 L274.4,326.5 L276.5,326.5 L278.5,326.5 L280.5,326.5 L282.5,326.5 L284.5,326.5 L286.6,326.4 L288.6,326.4 L290.6,326.4 L292.6,326.4 L294.6,326.4 L296.6,326.4 L298.6,326.3 L300.7,326.3 L302.7,326.3 L304.7,326.3 L306.7,326.3 L308.7,326.3 L310.8,326.2 L312.8,326.2 L314.8,326.2 L316.8,326.2 L318.8,326.2 L320.8,326.2 L322.9,326.1 L324.9,326.1 L326.9,326.1 L328.9,326.1 L330.9,326.1 L332.9,326.1 L334.9,326.0 L337.0,326.0 L339.0,326.0 L341.0,326.0 L343.0,326.0 L345.0,326.0 L347.1,326.0 L349.1,325.9 L351.1,325.9 L353.1,325.9 L355.1,325.9 L357.2,325.9 L359.2,325.9 L361.2,325.9 L363.2,325.8 L365.2,325.8 L367.3,325.8 L369.3,325.8 L371.3,325.8 L373.3,325.8 L375.3,325.8 L377.4,325.7 L379.4,325.7 L381.4,325.7 L383.4,325.7 L385.4,325.7 L387.5,325.7 L389.5,325.7 L391.5,325.6 L393.5,325.6 L395.6,325.6 L397.6,325.6 L399.6,325.6 L401.6,325.6 L403.6,325.6 L405.7,325.5 L407.7,325.5 L409.7,325.5 L411.7,325.5 L413.7,325.5 L415.8,325.5 L417.8,325.5 L419.8,325.4 L421.8,325.4 L423.8,325.4 L425.9,325.4 L427.9,325.4 L429.9,325.4 L431.9,325.4 L433.9,325.3 L436.0,325.3 L438.0,325.3 L440.0,325.3 L442.0,325.3 L444.0,325.3 L446.0,325.3 L448.0,325.2 L450.0,325.2 L452.0,325.2 L454.0,325.2 L456.0,325.2 L458.0,325.1 L460.0,325.1 L462.0,325.1 L464.0,325.1 L466.0,325.1 L468.0,325.0 L470.0,325.0 L472.0,325.0 L474.0,325.0 L476.0,325.0 L478.0,324.9 L480.0,324.9 L482.0,324.9 L484.0,324.9 L486.0,324.9 L488.0,324.9 L490.0,324.8 L492.0,324.8 L494.0,324.8 L496.0,324.8 L498.0,324.8 L500.0,324.8 L502.0,324.8 L504.0,324.7 L506.0,324.7 L508.0,324.7 L510.0,324.7 L512.0,324.7 L514.0,324.7 L516.0,324.7 L518.0,324.7 L520.0,324.7 L522.0,324.7 L524.0,324.7 L526.0,324.7 L528.0,324.7 L530.0,324.7 L532.0,324.7 L534.0,324.7 L536.0,324.7 L538.0,324.7 L540.0,324.7 L542.0,324.7 L544.0,324.7 L546.0,324.7 L548.0,324.7 L550.0,324.7 L552.0,324.7 L554.0,324.7 L556.0,324.7 L558.0,324.7 L560.0,324.7 L562.0,324.7 L564.1,324.7 L566.1,324.7 L568.2,324.8 L570.2,324.8 L572.3,324.8 L574.3,324.8 L576.4,324.9 L578.4,324.9 L580.5,325.0 L582.5,325.0 L584.6,325.1 L586.6,325.2 L588.7,325.2 L590.7,325.3 L592.8,325.3 L594.8,325.4 L596.9,325.5 L598.9,325.6 L601.0,325.6 L603.0,325.7 L605.0,325.8 L607.0,325.9 L609.0,326.0 L611.0,326.1 L613.0,326.2 L615.0,326.3 L617.0,326.4 L619.0,326.6 L621.0,326.7 L623.0,326.8 L625.0,327.0 L627.3,327.2 L629.7,327.5 L632.0,327.8 L634.4,328.1 L636.7,328.3 L638.7,328.5 L640.8,328.6 L642.8,328.8 L644.9,328.9 L646.9,329.1 L648.9,329.2 L651.0,329.2 L653.0,329.3 L655.1,329.3 L657.2,329.4 L659.4,329.4 L661.5,329.4 L663.6,329.4 L665.8,329.5 L667.9,329.5 L670.0,329.5 L672.0,329.5 L674.0,329.5 L676.0,329.5 L678.0,329.6 L680.0,329.6 L682.0,329.6 L684.0,329.6 L686.0,329.6 L688.0,329.6 L690.0,329.6 L692.0,329.7 L694.0,329.7 L696.0,329.7 L698.0,329.7 L700.0,329.7 L702.0,329.7 L704.0,329.7 L706.0,329.7 L708.0,329.7 L710.0,329.8 L712.0,329.8 L714.0,329.8 L716.0,329.8 L718.0,329.8 L720.0,329.8 L722.0,329.8 L724.0,329.8 L726.0,329.8 L728.0,329.8 L730.0,329.8 L732.0,329.8 L734.0,329.8 L736.0,329.9 L738.0,329.9 L740.0,329.9 L742.0,329.9 L744.0,329.9 L746.0,329.9 L748.0,329.9 L750.0,329.9 L752.0,329.9 L754.0,329.9 L756.0,329.9 L758.0,329.9 L760.0,329.9 L762.0,329.9 L764.0,329.9 L766.0,329.9 L768.0,329.9 L770.0,330.0 L772.0,330.0 L774.0,330.0 L776.0,330.0 L778.0,330.0 L780.0,330.0 L782.0,330.0 L784.0,330.0 L786.0,330.0 L788.0,330.0 L790.0,330.0 L792.0,330.0 L794.0,330.0 L796.0,330.0 L798.0,330.0 L800.0,330.0 L802.0,330.0 L804.0,330.0 L806.0,330.0 L808.0,330.0 L810.0,330.0 L812.0,330.0 L814.0,330.0 L816.0,330.0 L818.0,330.0 L820.0,330.0 L822.1,330.0 L824.1,330.0 L826.1,330.0 L828.1,330.0 L830.1,330.0 L832.1,330.0 L834.1,330.0 L836.1,330.0 L838.1,330.0 L840.1,330.0 L842.1,330.0 L844.1,330.0 L846.1,330.0 L848.1,330.0 L850.1,330.0 L852.1,330.0 L854.1,330.0 L856.1,330.0 L858.1,330.0 L860.1,330.1 L862.2,330.1 L864.2,330.1 L866.2,330.1 L868.2,330.1 L870.2,330.1 L872.2,330.1 L874.2,330.1 L876.2,330.1 L878.2,330.1 L880.2,330.1 L882.2,330.1 L884.2,330.1 L886.2,330.1 L888.2,330.1 L890.2,330.1 L892.2,330.1 L894.2,330.1 L896.2,330.1 L898.2,330.1 L900.2,330.1 L902.3,330.1 L904.3,330.1 L906.3,330.1 L908.3,330.1 L910.3,330.1 L912.3,330.1 L914.3,330.1 L916.3,330.1 L918.3,330.1 L920.3,330.1 L922.3,330.1 L924.3,330.1 L926.3,330.1 L928.3,330.1 L930.3,330.1 L932.3,330.1 L934.3,330.1 L936.3,330.1 L938.3,330.1 L940.4,330.1 L942.4,330.1 L944.4,330.1 L946.4,330.1 L948.4,330.1 L950.4,330.1 L952.4,330.1 L954.4,330.1 L956.4,330.1 L958.4,330.1 L960.4,330.1 L962.4,330.1 L964.4,330.1 L966.4,330.1 L968.4,330.1 L970.4,330.1 L972.4,330.1 L974.4,330.1 L976.4,330.1 L978.4,330.1 L980.5,330.1 L982.5,330.1 L984.5,330.1 L986.5,330.1 L988.5,330.1 L990.5,330.1 L992.5,330.1 L994.5,330.1 L996.5,330.1 L998.5,330.1 L1000.5,330.1 L1002.5,330.1 L1004.5,330.1 L1006.5,330.1 L1008.5,330.1 L1010.5,330.1 L1012.5,330.1 L1014.5,330.1 L1016.5,330.1 L1018.5,330.1 L1020.5,330.1 L1022.6,330.1 L1024.6,330.1 L1026.6,330.1 L1028.6,330.1 L1030.6,330.1 L1032.6,330.1 L1034.6,330.1 L1036.6,330.1 L1038.6,330.1 L1040.6,330.1 L1042.6,330.1 L1044.6,330.1 L1046.6,330.1 L1048.6,330.1 L1050.6,330.1 L1052.6,330.1 L1054.6,330.1 L1056.6,330.1 L1058.6,330.1 L1060.7,330.1 L1062.7,330.1 L1064.7,330.1 L1066.7,330.1 L1068.7,330.1 L1070.7,330.1 L1072.7,330.1 L1074.7,330.2 L1076.7,330.2 L1078.7,330.2 L1080.7,330.2 L1082.7,330.2 L1084.7,330.2 L1086.7,330.2 L1088.7,330.2 L1090.7,330.2 L1092.7,330.2 L1094.7,330.2 L1096.7,330.2 L1098.7,330.2 L1100.8,330.2 L1102.8,330.2 L1104.8,330.2 L1106.8,330.2 L1108.8,330.2 L1110.8,330.2 L1112.8,330.2 L1114.8,330.2 L1116.8,330.2 L1118.8,330.2 L1120.8,330.2 L1122.8,330.2 L1124.8,330.2 L1126.8,330.2 L1128.8,330.2 L1130.8,330.2 L1132.8,330.2 L1134.8,330.2 L1136.8,330.2 L1138.8,330.2 L1140.8,330.2 L1142.9,330.2 L1144.9,330.2 L1146.9,330.2 L1148.9,330.2 L1150.9,330.2 L1152.9,330.2 L1154.9,330.2 L1156.9,330.2 L1158.9,330.2 L1160.9,330.2 L1162.9,330.2 L1164.9,330.2 L1166.9,330.2 L1168.9,330.2 L1170.9,330.2 L1172.9,330.2 L1174.9,330.2 L1176.9,330.2 L1178.9,330.2 L1181.0,330.2 L1183.0,330.2 L1185.0,330.2 L1187.0,330.2 L1189.0,330.2 L1191.0,330.2 L1193.0,330.2 L1195.0,330.2 L1197.0,330.2 L1199.0,330.2 L1201.0,330.2" fill="none" stroke="#000" stroke-opacity="0.67" stroke-width="4.17" stroke-dasharray="12.5 12.5" stroke-dashoffset="14"/>
<path d="M188.0,474.9 L210.0,474.9 L211.0,479.0 L211.0,482.2 L220.0,482.2 L222.0,482.2 L224.0,482.3 L226.1,482.3 L228.1,482.3 L230.1,482.3 L232.1,482.4 L234.1,482.4 L236.1,482.4 L238.2,482.4 L240.2,482.5 L242.2,482.5 L244.2,482.5 L246.2,482.5 L248.2,482.6 L250.2,482.6 L252.3,482.6 L254.3,482.6 L256.3,482.7 L258.3,482.7 L260.3,482.7 L262.4,482.8 L264.4,482.8 L266.4,482.8 L268.4,482.8 L270.4,482.9 L272.4,482.9 L274.4,482.9 L276.5,482.9 L278.5,483.0 L280.5,483.0 L282.5,483.0 L284.5,483.0 L286.6,483.1 L288.6,483.1 L290.6,483.1 L292.6,483.1 L294.6,483.2 L296.6,483.2 L298.6,483.2 L300.7,483.2 L302.7,483.3 L304.7,483.3 L306.7,483.3 L308.7,483.3 L310.8,483.4 L312.8,483.4 L314.8,483.4 L316.8,483.4 L318.8,483.5 L320.8,483.5 L322.9,483.5 L324.9,483.5 L326.9,483.6 L328.9,483.6 L330.9,483.6 L332.9,483.6 L334.9,483.6 L337.0,483.7 L339.0,483.7 L341.0,483.7 L343.0,483.7 L345.0,483.7 L347.1,483.8 L349.1,483.8 L351.1,483.8 L353.1,483.8 L355.1,483.8 L357.2,483.8 L359.2,483.9 L361.2,483.9 L363.2,483.9 L365.2,483.9 L367.3,483.9 L369.3,483.9 L371.3,483.9 L373.3,483.9 L375.3,484.0 L377.4,484.0 L379.4,484.0 L381.4,484.0 L383.4,484.0 L385.4,484.0 L387.5,484.0 L389.5,484.0 L391.5,484.1 L393.5,484.1 L395.6,484.1 L397.6,484.1 L399.6,484.1 L401.6,484.1 L403.6,484.1 L405.7,484.2 L407.7,484.2 L409.7,484.2 L411.7,484.2 L413.7,484.2 L415.8,484.2 L417.8,484.3 L419.8,484.3 L421.8,484.3 L423.8,484.3 L425.9,484.3 L427.9,484.4 L429.9,484.4 L431.9,484.4 L433.9,484.4 L436.0,484.4 L438.0,484.5 L440.0,484.5 L442.0,484.5 L444.0,484.6 L446.0,484.6 L448.0,484.7 L450.0,484.7 L452.0,484.8 L454.0,484.8 L456.0,484.9 L458.0,485.0 L460.0,485.0 L462.0,485.1 L464.0,485.2 L466.0,485.3 L468.0,485.3 L470.0,485.4 L472.0,485.4 L474.0,485.5 L476.0,485.6 L478.0,485.6 L480.1,485.6 L482.2,485.7 L484.3,485.7 L486.4,485.8 L488.5,485.8 L490.5,485.8 L492.6,485.9 L494.7,485.9 L496.8,485.9 L498.9,486.0 L501.0,486.0 L503.1,486.0 L505.2,486.1 L507.3,486.2 L509.4,486.2 L511.5,486.3 L513.6,486.3 L515.7,486.4 L517.8,486.4 L519.9,486.5 L522.0,486.5 L524.0,486.5 L526.0,486.5 L528.0,486.5 L530.0,486.6 L532.0,486.6 L534.0,486.6 L536.0,486.6 L538.0,486.6 L540.0,486.6 L542.0,486.6 L544.0,486.6 L546.1,486.6 L548.2,486.6 L550.3,486.6 L552.4,486.6 L554.6,486.6 L556.7,486.6 L558.8,486.6 L560.9,486.6 L563.0,486.6 L565.1,486.6 L567.1,486.5 L569.2,486.5 L571.3,486.4 L573.3,486.3 L575.4,486.1 L577.5,486.0 L579.5,485.8 L581.6,485.6 L583.7,485.5 L585.7,485.3 L587.8,485.1 L589.9,484.9 L591.9,484.8 L594.0,484.6 L596.1,484.4 L598.1,484.3 L600.2,484.1 L602.3,484.0 L604.3,483.8 L606.4,483.6 L608.5,483.5 L610.5,483.3 L612.6,483.1 L614.7,482.9 L616.7,482.7 L618.8,482.5 L620.9,482.3 L622.9,482.1 L625.0,481.9 L627.0,481.7 L629.0,481.4 L631.0,481.1 L633.0,480.9 L635.0,480.6 L637.0,480.3 L639.0,480.0 L641.0,479.8 L643.1,479.6 L645.2,479.4 L647.4,479.2 L649.5,479.0 L651.6,478.8 L653.7,478.6 L655.8,478.4 L658.0,478.2 L660.1,478.0 L662.3,477.8 L664.4,477.6 L666.6,477.4 L668.7,477.3 L670.9,477.2 L673.0,477.2 L675.1,477.2 L677.3,477.2 L679.4,477.2 L681.6,477.2 L683.7,477.2 L685.9,477.2 L688.0,477.2 L690.0,477.2 L692.0,477.2 L694.0,477.2 L696.0,477.2 L698.0,477.2 L700.0,477.2 L702.0,477.2 L704.0,477.2 L706.0,477.2 L708.0,477.2 L710.0,477.2 L712.0,477.2 L714.0,477.2 L716.0,477.2 L718.0,477.2 L720.0,477.2 L722.0,477.2 L724.0,477.2 L726.0,477.2 L728.0,477.2 L730.0,477.2 L732.0,477.1 L734.0,477.1 L736.0,477.1 L738.0,477.1 L740.0,477.1 L742.0,477.1 L744.0,477.1 L746.0,477.1 L748.0,477.1 L750.0,477.1 L752.0,477.1 L754.0,477.1 L756.0,477.1 L758.0,477.1 L760.0,477.1 L762.0,477.1 L764.0,477.1 L766.0,477.1 L768.0,477.1 L770.0,477.1 L772.0,477.1 L774.0,477.1 L776.0,477.1 L778.0,477.1 L780.0,477.1 L782.0,477.1 L784.0,477.1 L786.0,477.1 L788.0,477.1 L790.0,477.1 L792.0,477.1 L794.0,477.1 L796.0,477.0 L798.0,477.0 L800.0,477.0 L802.0,477.0 L804.0,477.0 L806.0,477.0 L808.0,477.0 L810.0,477.0 L812.0,477.0 L814.0,477.0 L816.0,477.0 L818.0,477.0 L820.0,477.0 L822.0,477.0 L824.0,477.0 L826.0,477.0 L828.0,477.0 L830.0,477.0 L832.0,477.0 L834.0,477.0 L836.0,477.0 L838.0,477.0 L840.0,477.0 L842.0,477.0 L844.0,477.0 L846.0,477.0 L848.0,477.0 L850.0,477.0 L852.0,477.0 L854.0,477.0 L856.0,477.0 L858.0,477.0 L860.0,477.0 L862.0,477.0 L864.0,477.0 L866.0,476.9 L868.0,476.9 L870.0,476.9 L872.0,476.9 L874.0,476.9 L876.0,476.9 L878.0,476.9 L880.0,476.9 L882.0,476.9 L884.0,476.9 L886.0,476.9 L888.0,476.9 L890.0,476.9 L892.0,476.9 L894.0,476.9 L896.0,476.9 L898.0,476.9 L900.0,476.9 L902.0,476.9 L904.0,476.9 L906.0,476.9 L908.0,476.9 L910.0,476.9 L912.0,476.9 L914.0,476.9 L916.1,476.9 L918.1,476.9 L920.1,476.9 L922.1,476.9 L924.1,476.9 L926.1,476.9 L928.1,476.9 L930.1,476.9 L932.1,476.9 L934.1,476.9 L936.1,476.9 L938.1,476.8 L940.1,476.8 L942.1,476.8 L944.1,476.8 L946.2,476.8 L948.2,476.8 L950.2,476.8 L952.2,476.8 L954.2,476.8 L956.2,476.8 L958.2,476.8 L960.2,476.8 L962.2,476.8 L964.2,476.8 L966.2,476.8 L968.2,476.8 L970.2,476.8 L972.2,476.8 L974.2,476.8 L976.3,476.8 L978.3,476.8 L980.3,476.8 L982.3,476.8 L984.3,476.8 L986.3,476.8 L988.3,476.8 L990.3,476.8 L992.3,476.8 L994.3,476.8 L996.3,476.8 L998.3,476.8 L1000.3,476.8 L1002.3,476.8 L1004.3,476.8 L1006.4,476.8 L1008.4,476.8 L1010.4,476.8 L1012.4,476.7 L1014.4,476.7 L1016.4,476.7 L1018.4,476.7 L1020.4,476.7 L1022.4,476.7 L1024.4,476.7 L1026.4,476.7 L1028.4,476.7 L1030.4,476.7 L1032.4,476.7 L1034.4,476.7 L1036.5,476.7 L1038.5,476.7 L1040.5,476.7 L1042.5,476.7 L1044.5,476.7 L1046.5,476.7 L1048.5,476.7 L1050.5,476.7 L1052.5,476.7 L1054.5,476.7 L1056.5,476.7 L1058.5,476.7 L1060.5,476.7 L1062.5,476.7 L1064.5,476.7 L1066.6,476.7 L1068.6,476.7 L1070.6,476.7 L1072.6,476.7 L1074.6,476.7 L1076.6,476.7 L1078.6,476.7 L1080.6,476.7 L1082.6,476.7 L1084.6,476.7 L1086.6,476.7 L1088.6,476.6 L1090.6,476.6 L1092.6,476.6 L1094.6,476.6 L1096.7,476.6 L1098.7,476.6 L1100.7,476.6 L1102.7,476.6 L1104.7,476.6 L1106.7,476.6 L1108.7,476.6 L1110.7,476.6 L1112.7,476.6 L1114.7,476.6 L1116.7,476.6 L1118.7,476.6 L1120.7,476.6 L1122.7,476.6 L1124.7,476.6 L1126.8,476.6 L1128.8,476.6 L1130.8,476.6 L1132.8,476.6 L1134.8,476.6 L1136.8,476.6 L1138.8,476.6 L1140.8,476.6 L1142.8,476.6 L1144.8,476.6 L1146.8,476.6 L1148.8,476.6 L1150.8,476.6 L1152.8,476.6 L1154.8,476.6 L1156.9,476.6 L1158.9,476.6 L1160.9,476.6 L1162.9,476.6 L1164.9,476.5 L1166.9,476.5 L1168.9,476.5 L1170.9,476.5 L1172.9,476.5 L1174.9,476.5 L1176.9,476.5 L1178.9,476.5 L1180.9,476.5 L1182.9,476.5 L1184.9,476.5 L1187.0,476.5 L1189.0,476.5 L1191.0,476.5 L1193.0,476.5 L1195.0,476.5 L1197.0,476.5 L1199.0,476.5 L1201.0,476.5" fill="none" stroke="#ff0000" stroke-opacity="0.67" stroke-width="4.17" stroke-dasharray="2.08 6.25" stroke-dashoffset="5.68"/>
<path d="M204.0,474.9h12M210.0,468.9v12" stroke="#ff0000" stroke-opacity="0.67" stroke-width="2.1" fill="none"/>
<path d="M205.0,479.0h12M211.0,473.0v12" stroke="#ff0000" stroke-opacity="0.67" stroke-width="2.1" fill="none"/>
<path d="M205.0,482.2h12M211.0,476.2v12" stroke="#ff0000" stroke-opacity="0.67" stroke-width="2.1" fill="none"/>
<path d="M214.0,482.2h12M220.0,476.2v12" stroke="#ff0000" stroke-opacity="0.67" stroke-width="2.1" fill="none"/>
<path d="M335.0,483.7h12M341.0,477.7v12" stroke="#ff0000" stroke-opacity="0.67" stroke-width="2.1" fill="none"/>
<path d="M434.0,484.5h12M440.0,478.5v12" stroke="#ff0000" stroke-opacity="0.67" stroke-width="2.1" fill="none"/>
<path d="M472.0,485.6h12M478.0,479.6v12" stroke="#ff0000" stroke-opacity="0.67" stroke-width="2.1" fill="none"/>
<path d="M495.0,486.0h12M501.0,480.0v12" stroke="#ff0000" stroke-opacity="0.67" stroke-width="2.1" fill="none"/>
<path d="M516.0,486.5h12M522.0,480.5v12" stroke="#ff0000" stroke-opacity="0.67" stroke-width="2.1" fill="none"/>
<path d="M538.0,486.6h12M544.0,480.6v12" stroke="#ff0000" stroke-opacity="0.67" stroke-width="2.1" fill="none"/>
<path d="M557.0,486.6h12M563.0,480.6v12" stroke="#ff0000" stroke-opacity="0.67" stroke-width="2.1" fill="none"/>
<path d="M588.0,484.6h12M594.0,478.6v12" stroke="#ff0000" stroke-opacity="0.67" stroke-width="2.1" fill="none"/>
<path d="M618.8,481.9h12M624.8,475.9v12" stroke="#ff0000" stroke-opacity="0.67" stroke-width="2.1" fill="none"/>
<path d="M635.0,479.8h12M641.0,473.8v12" stroke="#ff0000" stroke-opacity="0.67" stroke-width="2.1" fill="none"/>
<path d="M647.7,478.6h12M653.7,472.6v12" stroke="#ff0000" stroke-opacity="0.67" stroke-width="2.1" fill="none"/>
<path d="M667.0,477.2h12M673.0,471.2v12" stroke="#ff0000" stroke-opacity="0.67" stroke-width="2.1" fill="none"/>
<path d="M681.6,477.2h12M687.6,471.2v12" stroke="#ff0000" stroke-opacity="0.67" stroke-width="2.1" fill="none"/>
<path d="M695.8,477.2h12M701.8,471.2v12" stroke="#ff0000" stroke-opacity="0.67" stroke-width="2.1" fill="none"/>
<path d="M708.8,477.2h12M714.8,471.2v12" stroke="#ff0000" stroke-opacity="0.67" stroke-width="2.1" fill="none"/>
<path d="M721.8,477.2h12M727.8,471.2v12" stroke="#ff0000" stroke-opacity="0.67" stroke-width="2.1" fill="none"/>
<path d="M738.0,477.1h12M744.0,471.1v12" stroke="#ff0000" stroke-opacity="0.67" stroke-width="2.1" fill="none"/>
<path d="M752.0,477.1h12M758.0,471.1v12" stroke="#ff0000" stroke-opacity="0.67" stroke-width="2.1" fill="none"/>
<path d="M778.8,477.1h12M784.8,471.1v12" stroke="#ff0000" stroke-opacity="0.67" stroke-width="2.1" fill="none"/>
<path d="M791.0,477.0h12M797.0,471.0v12" stroke="#ff0000" stroke-opacity="0.67" stroke-width="2.1" fill="none"/>
<path d="M804.5,477.0h12M810.5,471.0v12" stroke="#ff0000" stroke-opacity="0.67" stroke-width="2.1" fill="none"/>
<path d="M817.6,477.0h12M823.6,471.0v12" stroke="#ff0000" stroke-opacity="0.67" stroke-width="2.1" fill="none"/>
<path d="M829.8,477.0h12M835.8,471.0v12" stroke="#ff0000" stroke-opacity="0.67" stroke-width="2.1" fill="none"/>
<path d="M842.5,477.0h12M848.5,471.0v12" stroke="#ff0000" stroke-opacity="0.67" stroke-width="2.1" fill="none"/>
<path d="M852.8,477.0h12M858.8,471.0v12" stroke="#ff0000" stroke-opacity="0.67" stroke-width="2.1" fill="none"/>
<path d="M894.8,476.9h12M900.8,470.9v12" stroke="#ff0000" stroke-opacity="0.67" stroke-width="2.1" fill="none"/>
<path d="M940.0,476.8h12M946.0,470.8v12" stroke="#ff0000" stroke-opacity="0.67" stroke-width="2.1" fill="none"/>
<path d="M976.0,476.8h12M982.0,470.8v12" stroke="#ff0000" stroke-opacity="0.67" stroke-width="2.1" fill="none"/>
<path d="M1006.8,476.7h12M1012.8,470.7v12" stroke="#ff0000" stroke-opacity="0.67" stroke-width="2.1" fill="none"/>
<path d="M1034.0,476.7h12M1040.0,470.7v12" stroke="#ff0000" stroke-opacity="0.67" stroke-width="2.1" fill="none"/>
<path d="M1060.0,476.7h12M1066.0,470.7v12" stroke="#ff0000" stroke-opacity="0.67" stroke-width="2.1" fill="none"/>
<path d="M1082.0,476.6h12M1088.0,470.6v12" stroke="#ff0000" stroke-opacity="0.67" stroke-width="2.1" fill="none"/>
<path d="M1100.0,476.6h12M1106.0,470.6v12" stroke="#ff0000" stroke-opacity="0.67" stroke-width="2.1" fill="none"/>
<path d="M1115.6,476.6h12M1121.6,470.6v12" stroke="#ff0000" stroke-opacity="0.67" stroke-width="2.1" fill="none"/>
<path d="M1127.8,476.6h12M1133.8,470.6v12" stroke="#ff0000" stroke-opacity="0.67" stroke-width="2.1" fill="none"/>
<path d="M1138.3,476.6h12M1144.3,470.6v12" stroke="#ff0000" stroke-opacity="0.67" stroke-width="2.1" fill="none"/>
<path d="M1145.3,476.6h12M1151.3,470.6v12" stroke="#ff0000" stroke-opacity="0.67" stroke-width="2.1" fill="none"/>
<path d="M1152.2,476.6h12M1158.2,470.6v12" stroke="#ff0000" stroke-opacity="0.67" stroke-width="2.1" fill="none"/>
<path d="M1156.5,476.6h12M1162.5,470.6v12" stroke="#ff0000" stroke-opacity="0.67" stroke-width="2.1" fill="none"/>
<path d="M1160.5,476.5h12M1166.5,470.5v12" stroke="#ff0000" stroke-opacity="0.67" stroke-width="2.1" fill="none"/>
<path d="M1163.5,476.5h12M1169.5,470.5v12" stroke="#ff0000" stroke-opacity="0.67" stroke-width="2.1" fill="none"/>
<path d="M1165.9,476.5h12M1171.9,470.5v12" stroke="#ff0000" stroke-opacity="0.67" stroke-width="2.1" fill="none"/>
<path d="M1167.9,476.5h12M1173.9,470.5v12" stroke="#ff0000" stroke-opacity="0.67" stroke-width="2.1" fill="none"/>
<path d="M1169.3,476.5h12M1175.3,470.5v12" stroke="#ff0000" stroke-opacity="0.67" stroke-width="2.1" fill="none"/>
<path d="M1171.2,476.5h12M1177.2,470.5v12" stroke="#ff0000" stroke-opacity="0.67" stroke-width="2.1" fill="none"/>
<path d="M1173.5,476.5h12M1179.5,470.5v12" stroke="#ff0000" stroke-opacity="0.67" stroke-width="2.1" fill="none"/>
<path d="M1174.5,476.5h12M1180.5,470.5v12" stroke="#ff0000" stroke-opacity="0.67" stroke-width="2.1" fill="none"/>
<path d="M1175.3,476.5h12M1181.3,470.5v12" stroke="#ff0000" stroke-opacity="0.67" stroke-width="2.1" fill="none"/>
<path d="M1176.2,476.5h12M1182.2,470.5v12" stroke="#ff0000" stroke-opacity="0.67" stroke-width="2.1" fill="none"/>
<path d="M1177.0,476.5h12M1183.0,470.5v12" stroke="#ff0000" stroke-opacity="0.67" stroke-width="2.1" fill="none"/>
<path d="M1177.9,476.5h12M1183.9,470.5v12" stroke="#ff0000" stroke-opacity="0.67" stroke-width="2.1" fill="none"/>
<path d="M1180.3,476.5h12M1186.3,470.5v12" stroke="#ff0000" stroke-opacity="0.67" stroke-width="2.1" fill="none"/>
<path d="M1182.7,476.5h12M1188.7,470.5v12" stroke="#ff0000" stroke-opacity="0.67" stroke-width="2.1" fill="none"/>
<path d="M1185.1,476.5h12M1191.1,470.5v12" stroke="#ff0000" stroke-opacity="0.67" stroke-width="2.1" fill="none"/>
<path d="M1187.9,476.5h12M1193.9,470.5v12" stroke="#ff0000" stroke-opacity="0.67" stroke-width="2.1" fill="none"/>
<path d="M1191.3,476.5h12M1197.3,470.5v12" stroke="#ff0000" stroke-opacity="0.67" stroke-width="2.1" fill="none"/>
<path d="M1193.2,476.5h12M1199.2,470.5v12" stroke="#ff0000" stroke-opacity="0.67" stroke-width="2.1" fill="none"/>
<path d="M1195.2,476.5h12M1201.2,470.5v12" stroke="#ff0000" stroke-opacity="0.67" stroke-width="2.1" fill="none"/>
<path d="M1195.2,476.5h12M1201.2,470.5v12" stroke="#ff0000" stroke-opacity="0.67" stroke-width="2.1" fill="none"/>
<path d="M1195.2,476.5h12M1201.2,470.5v12" stroke="#ff0000" stroke-opacity="0.67" stroke-width="2.1" fill="none"/>
<path d="M1195.2,476.5h12M1201.2,470.5v12" stroke="#ff0000" stroke-opacity="0.67" stroke-width="2.1" fill="none"/>
<path d="M1195.2,476.5h12M1201.2,470.5v12" stroke="#ff0000" stroke-opacity="0.67" stroke-width="2.1" fill="none"/>
<path d="M1195.2,476.5h12M1201.2,470.5v12" stroke="#ff0000" stroke-opacity="0.67" stroke-width="2.1" fill="none"/>
<path d="M188.0,832.8 L209.6,832.4 L210.4,834.0 L211.0,849.5 L211.0,863.0 L220.0,862.8 L222.0,862.8 L224.0,862.9 L226.1,862.9 L228.1,863.0 L230.1,863.0 L232.1,863.1 L234.1,863.1 L236.1,863.2 L238.2,863.2 L240.2,863.3 L242.2,863.3 L244.2,863.3 L246.2,863.4 L248.2,863.4 L250.2,863.5 L252.3,863.5 L254.3,863.6 L256.3,863.6 L258.3,863.7 L260.3,863.7 L262.4,863.7 L264.4,863.8 L266.4,863.8 L268.4,863.9 L270.4,863.9 L272.4,864.0 L274.4,864.0 L276.5,864.1 L278.5,864.1 L280.5,864.2 L282.5,864.2 L284.5,864.2 L286.6,864.3 L288.6,864.3 L290.6,864.4 L292.6,864.4 L294.6,864.5 L296.6,864.5 L298.6,864.6 L300.7,864.6 L302.7,864.7 L304.7,864.7 L306.7,864.7 L308.7,864.8 L310.8,864.8 L312.8,864.9 L314.8,864.9 L316.8,865.0 L318.8,865.0 L320.8,865.1 L322.9,865.1 L324.9,865.2 L326.9,865.2 L328.9,865.3 L330.9,865.3 L332.9,865.4 L334.9,865.4 L337.0,865.5 L339.0,865.5 L341.0,865.6 L343.0,865.7 L345.0,865.7 L347.1,865.8 L349.1,865.8 L351.1,865.9 L353.1,865.9 L355.1,866.0 L357.2,866.0 L359.2,866.1 L361.2,866.1 L363.2,866.2 L365.2,866.2 L367.3,866.3 L369.3,866.3 L371.3,866.4 L373.3,866.4 L375.3,866.5 L377.4,866.5 L379.4,866.6 L381.4,866.7 L383.4,866.7 L385.4,866.8 L387.5,866.8 L389.5,866.9 L391.5,866.9 L393.5,867.0 L395.6,867.1 L397.6,867.1 L399.6,867.2 L401.6,867.2 L403.6,867.3 L405.7,867.4 L407.7,867.4 L409.7,867.5 L411.7,867.6 L413.7,867.6 L415.8,867.7 L417.8,867.8 L419.8,867.8 L421.8,867.9 L423.8,868.0 L425.9,868.0 L427.9,868.1 L429.9,868.2 L431.9,868.3 L433.9,868.4 L436.0,868.4 L438.0,868.5 L440.0,868.6 L442.0,868.7 L444.0,868.8 L446.0,868.9 L448.0,869.0 L450.0,869.1 L452.0,869.2 L454.0,869.4 L456.0,869.5 L458.0,869.6 L460.0,869.8 L462.0,869.9 L464.0,870.0 L466.0,870.1 L468.0,870.3 L470.0,870.4 L472.0,870.5 L474.0,870.6 L476.0,870.7 L478.0,870.8 L480.1,870.9 L482.2,871.0 L484.3,871.0 L486.4,871.1 L488.5,871.2 L490.5,871.3 L492.6,871.3 L494.7,871.4 L496.8,871.5 L498.9,871.5 L501.0,871.6 L503.1,871.7 L505.2,871.8 L507.3,871.9 L509.4,872.0 L511.5,872.1 L513.6,872.1 L515.7,872.2 L517.8,872.3 L519.9,872.4 L522.0,872.4 L524.0,872.4 L526.0,872.5 L528.0,872.5 L530.0,872.5 L532.0,872.5 L534.0,872.6 L536.0,872.6 L538.0,872.6 L540.0,872.6 L542.0,872.6 L544.0,872.6 L546.1,872.6 L548.2,872.6 L550.3,872.5 L552.4,872.5 L554.6,872.5 L556.7,872.4 L558.8,872.3 L560.9,872.3 L563.0,872.2 L565.1,872.1 L567.1,872.0 L569.2,871.8 L571.3,871.6 L573.3,871.3 L575.4,871.0 L577.5,870.7 L579.5,870.4 L581.6,870.1 L583.7,869.7 L585.7,869.3 L587.8,869.0 L589.9,868.6 L591.9,868.2 L594.0,867.8 L596.1,867.4 L598.1,867.0 L600.2,866.5 L602.3,866.0 L604.3,865.5 L606.4,864.9 L608.5,864.3 L610.5,863.8 L612.6,863.2 L614.7,862.6 L616.7,862.0 L618.8,861.4 L620.9,860.8 L622.9,860.2 L625.0,859.6 L627.0,859.1 L629.0,858.5 L631.0,858.0 L633.0,857.4 L635.0,856.8 L637.0,856.3 L639.0,855.6 L641.0,855.0 L643.1,854.2 L645.2,853.4 L647.3,852.5 L649.4,851.7 L651.5,850.9 L653.6,850.2 L655.8,849.6 L657.9,848.9 L660.1,848.3 L662.2,847.7 L664.4,847.2 L666.5,846.7 L668.7,846.3 L670.8,846.0 L673.0,845.8 L675.1,845.7 L677.2,845.6 L679.3,845.5 L681.3,845.4 L683.4,845.3 L685.5,845.2 L687.6,845.2 L689.6,845.2 L691.6,845.1 L693.6,845.1 L695.7,845.0 L697.7,845.0 L699.7,845.0 L701.7,845.0 L703.7,844.9 L705.7,844.9 L707.7,844.9 L709.8,844.9 L711.8,844.8 L713.8,844.8 L715.8,844.8 L717.8,844.8 L719.8,844.8 L721.8,844.7 L723.9,844.7 L725.9,844.7 L727.9,844.7 L729.9,844.7 L731.9,844.6 L733.9,844.6 L735.9,844.6 L738.0,844.6 L740.0,844.6 L742.0,844.5 L744.0,844.5 L746.0,844.5 L748.0,844.4 L750.1,844.4 L752.1,844.4 L754.1,844.4 L756.1,844.3 L758.1,844.3 L760.1,844.3 L762.2,844.2 L764.2,844.2 L766.2,844.2 L768.2,844.1 L770.2,844.1 L772.2,844.1 L774.3,844.1 L776.3,844.0 L778.3,844.0 L780.3,844.0 L782.3,843.9 L784.4,843.9 L786.4,843.9 L788.4,843.8 L790.4,843.8 L792.4,843.8 L794.4,843.7 L796.5,843.7 L798.5,843.7 L800.5,843.6 L802.5,843.6 L804.5,843.6 L806.5,843.5 L808.6,843.5 L810.6,843.5 L812.6,843.4 L814.6,843.4 L816.6,843.4 L818.6,843.4 L820.7,843.3 L822.7,843.3 L824.7,843.3 L826.7,843.2 L828.7,843.2 L830.8,843.2 L832.8,843.1 L834.8,843.1 L836.8,843.1 L838.8,843.1 L840.8,843.0 L842.9,843.0 L844.9,843.0 L846.9,842.9 L848.9,842.9 L850.9,842.9 L852.9,842.9 L855.0,842.8 L857.0,842.8 L859.0,842.8 L861.0,842.8 L863.1,842.8 L865.1,842.7 L867.2,842.7 L869.2,842.7 L871.3,842.7 L873.4,842.7 L875.4,842.6 L877.5,842.6 L879.5,842.6 L881.5,842.6 L883.6,842.6 L885.6,842.5 L887.7,842.5 L889.8,842.5 L891.8,842.5 L893.9,842.5 L895.9,842.4 L898.0,842.4 L900.0,842.4 L902.0,842.4 L904.0,842.4 L906.0,842.3 L908.0,842.3 L910.0,842.3 L912.0,842.3 L914.0,842.2 L916.0,842.2 L918.0,842.2 L920.0,842.1 L922.0,842.1 L924.0,842.1 L926.0,842.1 L928.0,842.0 L930.0,842.0 L932.0,842.0 L934.0,842.0 L936.0,841.9 L938.0,841.9 L940.0,841.9 L942.0,841.8 L944.0,841.8 L946.0,841.8 L948.0,841.8 L950.0,841.8 L952.0,841.7 L954.0,841.7 L956.0,841.7 L958.0,841.6 L960.0,841.6 L962.0,841.6 L964.0,841.6 L966.0,841.5 L968.0,841.5 L970.0,841.5 L972.0,841.5 L974.0,841.5 L976.0,841.4 L978.0,841.4 L980.0,841.4 L982.0,841.4 L984.0,841.4 L986.0,841.4 L988.0,841.4 L990.0,841.4 L992.0,841.4 L994.1,841.3 L996.1,841.3 L998.1,841.3 L1000.1,841.3 L1002.1,841.3 L1004.1,841.3 L1006.1,841.3 L1008.1,841.3 L1010.1,841.3 L1012.1,841.3 L1014.1,841.3 L1016.2,841.2 L1018.2,841.2 L1020.2,841.2 L1022.2,841.2 L1024.2,841.2 L1026.2,841.2 L1028.2,841.2 L1030.2,841.2 L1032.2,841.2 L1034.2,841.2 L1036.2,841.2 L1038.3,841.2 L1040.3,841.2 L1042.3,841.2 L1044.3,841.2 L1046.3,841.1 L1048.3,841.1 L1050.3,841.1 L1052.3,841.1 L1054.3,841.1 L1056.3,841.1 L1058.3,841.1 L1060.4,841.1 L1062.4,841.1 L1064.4,841.1 L1066.4,841.1 L1068.4,841.1 L1070.4,841.1 L1072.4,841.1 L1074.4,841.1 L1076.4,841.1 L1078.4,841.1 L1080.4,841.1 L1082.5,841.1 L1084.5,841.0 L1086.5,841.0 L1088.5,841.0 L1090.5,841.0 L1092.5,841.0 L1094.5,841.0 L1096.5,841.0 L1098.5,841.0 L1100.5,841.0 L1102.6,841.0 L1104.6,841.0 L1106.6,841.0 L1108.6,841.0 L1110.6,841.0 L1112.6,841.0 L1114.6,841.0 L1116.6,841.0 L1118.6,841.0 L1120.6,841.0 L1122.6,841.0 L1124.7,841.0 L1126.7,841.0 L1128.7,841.0 L1130.7,841.0 L1132.7,841.0 L1134.7,840.9 L1136.7,840.9 L1138.7,840.9 L1140.7,840.9 L1142.7,840.9 L1144.7,840.9 L1146.8,840.9 L1148.8,840.9 L1150.8,840.9 L1152.8,840.9 L1154.8,840.9 L1156.8,840.9 L1158.8,840.9 L1160.8,840.9 L1162.8,840.9 L1164.8,840.9 L1166.8,840.9 L1168.9,840.9 L1170.9,840.9 L1172.9,840.9 L1174.9,840.9 L1176.9,840.9 L1178.9,840.9 L1180.9,840.9 L1182.9,840.8 L1184.9,840.8 L1186.9,840.8 L1188.9,840.8 L1191.0,840.8 L1193.0,840.8 L1195.0,840.8 L1197.0,840.8 L1199.0,840.8 L1201.0,840.8" fill="none" stroke="#000" stroke-opacity="0.67" stroke-width="4.17" stroke-linejoin="round"/>
<path d="M209.6,823.3L214.5,832.4L209.6,841.5L204.7,832.4Z" fill="#000" fill-opacity="0.67" stroke="#000" stroke-opacity="0.8" stroke-width="1.7"/>
<path d="M210.4,824.9L215.3,834.0L210.4,843.1L205.5,834.0Z" fill="#000" fill-opacity="0.67" stroke="#000" stroke-opacity="0.8" stroke-width="1.7"/>
<path d="M211.0,840.4L215.9,849.5L211.0,858.6L206.1,849.5Z" fill="#000" fill-opacity="0.67" stroke="#000" stroke-opacity="0.8" stroke-width="1.7"/>
<path d="M211.0,853.9L215.9,863.0L211.0,872.1L206.1,863.0Z" fill="#000" fill-opacity="0.67" stroke="#000" stroke-opacity="0.8" stroke-width="1.7"/>
<path d="M220.0,853.7L224.9,862.8L220.0,871.9L215.1,862.8Z" fill="#000" fill-opacity="0.67" stroke="#000" stroke-opacity="0.8" stroke-width="1.7"/>
<path d="M341.0,856.5L345.9,865.6L341.0,874.7L336.1,865.6Z" fill="#000" fill-opacity="0.67" stroke="#000" stroke-opacity="0.8" stroke-width="1.7"/>
<path d="M440.0,859.5L444.9,868.6L440.0,877.7L435.1,868.6Z" fill="#000" fill-opacity="0.67" stroke="#000" stroke-opacity="0.8" stroke-width="1.7"/>
<path d="M478.0,861.7L482.9,870.8L478.0,879.9L473.1,870.8Z" fill="#000" fill-opacity="0.67" stroke="#000" stroke-opacity="0.8" stroke-width="1.7"/>
<path d="M501.0,862.5L505.9,871.6L501.0,880.7L496.1,871.6Z" fill="#000" fill-opacity="0.67" stroke="#000" stroke-opacity="0.8" stroke-width="1.7"/>
<path d="M522.0,863.3L526.9,872.4L522.0,881.5L517.1,872.4Z" fill="#000" fill-opacity="0.67" stroke="#000" stroke-opacity="0.8" stroke-width="1.7"/>
<path d="M544.0,863.5L548.9,872.6L544.0,881.7L539.1,872.6Z" fill="#000" fill-opacity="0.67" stroke="#000" stroke-opacity="0.8" stroke-width="1.7"/>
<path d="M563.0,863.1L567.9,872.2L563.0,881.3L558.1,872.2Z" fill="#000" fill-opacity="0.67" stroke="#000" stroke-opacity="0.8" stroke-width="1.7"/>
<path d="M594.0,858.7L598.9,867.8L594.0,876.9L589.1,867.8Z" fill="#000" fill-opacity="0.67" stroke="#000" stroke-opacity="0.8" stroke-width="1.7"/>
<path d="M624.8,850.6L629.7,859.7L624.8,868.8L619.9,859.7Z" fill="#000" fill-opacity="0.67" stroke="#000" stroke-opacity="0.8" stroke-width="1.7"/>
<path d="M641.0,845.9L645.9,855.0L641.0,864.1L636.1,855.0Z" fill="#000" fill-opacity="0.67" stroke="#000" stroke-opacity="0.8" stroke-width="1.7"/>
<path d="M653.7,841.1L658.6,850.2L653.7,859.3L648.8,850.2Z" fill="#000" fill-opacity="0.67" stroke="#000" stroke-opacity="0.8" stroke-width="1.7"/>
<path d="M673.0,836.7L677.9,845.8L673.0,854.9L668.1,845.8Z" fill="#000" fill-opacity="0.67" stroke="#000" stroke-opacity="0.8" stroke-width="1.7"/>
<path d="M687.6,836.1L692.5,845.2L687.6,854.3L682.7,845.2Z" fill="#000" fill-opacity="0.67" stroke="#000" stroke-opacity="0.8" stroke-width="1.7"/>
<path d="M701.8,835.9L706.7,845.0L701.8,854.1L696.9,845.0Z" fill="#000" fill-opacity="0.67" stroke="#000" stroke-opacity="0.8" stroke-width="1.7"/>
<path d="M714.8,835.7L719.7,844.8L714.8,853.9L709.9,844.8Z" fill="#000" fill-opacity="0.67" stroke="#000" stroke-opacity="0.8" stroke-width="1.7"/>
<path d="M727.8,835.6L732.7,844.7L727.8,853.8L722.9,844.7Z" fill="#000" fill-opacity="0.67" stroke="#000" stroke-opacity="0.8" stroke-width="1.7"/>
<path d="M744.0,835.4L748.9,844.5L744.0,853.6L739.1,844.5Z" fill="#000" fill-opacity="0.67" stroke="#000" stroke-opacity="0.8" stroke-width="1.7"/>
<path d="M758.0,835.2L762.9,844.3L758.0,853.4L753.1,844.3Z" fill="#000" fill-opacity="0.67" stroke="#000" stroke-opacity="0.8" stroke-width="1.7"/>
<path d="M784.8,834.8L789.7,843.9L784.8,853.0L779.9,843.9Z" fill="#000" fill-opacity="0.67" stroke="#000" stroke-opacity="0.8" stroke-width="1.7"/>
<path d="M797.0,834.6L801.9,843.7L797.0,852.8L792.1,843.7Z" fill="#000" fill-opacity="0.67" stroke="#000" stroke-opacity="0.8" stroke-width="1.7"/>
<path d="M810.5,834.4L815.4,843.5L810.5,852.6L805.6,843.5Z" fill="#000" fill-opacity="0.67" stroke="#000" stroke-opacity="0.8" stroke-width="1.7"/>
<path d="M823.6,834.2L828.5,843.3L823.6,852.4L818.7,843.3Z" fill="#000" fill-opacity="0.67" stroke="#000" stroke-opacity="0.8" stroke-width="1.7"/>
<path d="M835.8,834.0L840.7,843.1L835.8,852.2L830.9,843.1Z" fill="#000" fill-opacity="0.67" stroke="#000" stroke-opacity="0.8" stroke-width="1.7"/>
<path d="M848.5,833.8L853.4,842.9L848.5,852.0L843.6,842.9Z" fill="#000" fill-opacity="0.67" stroke="#000" stroke-opacity="0.8" stroke-width="1.7"/>
<path d="M858.8,833.7L863.7,842.8L858.8,851.9L853.9,842.8Z" fill="#000" fill-opacity="0.67" stroke="#000" stroke-opacity="0.8" stroke-width="1.7"/>
<path d="M900.8,833.3L905.7,842.4L900.8,851.5L895.9,842.4Z" fill="#000" fill-opacity="0.67" stroke="#000" stroke-opacity="0.8" stroke-width="1.7"/>
<path d="M946.0,832.7L950.9,841.8L946.0,850.9L941.1,841.8Z" fill="#000" fill-opacity="0.67" stroke="#000" stroke-opacity="0.8" stroke-width="1.7"/>
<path d="M982.0,832.3L986.9,841.4L982.0,850.5L977.1,841.4Z" fill="#000" fill-opacity="0.67" stroke="#000" stroke-opacity="0.8" stroke-width="1.7"/>
<path d="M1012.8,832.2L1017.7,841.3L1012.8,850.4L1007.9,841.3Z" fill="#000" fill-opacity="0.67" stroke="#000" stroke-opacity="0.8" stroke-width="1.7"/>
<path d="M1040.0,832.1L1044.9,841.2L1040.0,850.3L1035.1,841.2Z" fill="#000" fill-opacity="0.67" stroke="#000" stroke-opacity="0.8" stroke-width="1.7"/>
<path d="M1066.0,832.0L1070.9,841.1L1066.0,850.2L1061.1,841.1Z" fill="#000" fill-opacity="0.67" stroke="#000" stroke-opacity="0.8" stroke-width="1.7"/>
<path d="M1088.0,831.9L1092.9,841.0L1088.0,850.1L1083.1,841.0Z" fill="#000" fill-opacity="0.67" stroke="#000" stroke-opacity="0.8" stroke-width="1.7"/>
<path d="M1106.0,831.9L1110.9,841.0L1106.0,850.1L1101.1,841.0Z" fill="#000" fill-opacity="0.67" stroke="#000" stroke-opacity="0.8" stroke-width="1.7"/>
<path d="M1121.6,831.9L1126.5,841.0L1121.6,850.1L1116.7,841.0Z" fill="#000" fill-opacity="0.67" stroke="#000" stroke-opacity="0.8" stroke-width="1.7"/>
<path d="M1133.8,831.8L1138.7,840.9L1133.8,850.0L1128.9,840.9Z" fill="#000" fill-opacity="0.67" stroke="#000" stroke-opacity="0.8" stroke-width="1.7"/>
<path d="M1144.3,831.8L1149.2,840.9L1144.3,850.0L1139.4,840.9Z" fill="#000" fill-opacity="0.67" stroke="#000" stroke-opacity="0.8" stroke-width="1.7"/>
<path d="M1151.3,831.8L1156.2,840.9L1151.3,850.0L1146.4,840.9Z" fill="#000" fill-opacity="0.67" stroke="#000" stroke-opacity="0.8" stroke-width="1.7"/>
<path d="M1158.2,831.8L1163.1,840.9L1158.2,850.0L1153.3,840.9Z" fill="#000" fill-opacity="0.67" stroke="#000" stroke-opacity="0.8" stroke-width="1.7"/>
<path d="M1162.5,831.8L1167.4,840.9L1162.5,850.0L1157.6,840.9Z" fill="#000" fill-opacity="0.67" stroke="#000" stroke-opacity="0.8" stroke-width="1.7"/>
<path d="M1166.5,831.8L1171.4,840.9L1166.5,850.0L1161.6,840.9Z" fill="#000" fill-opacity="0.67" stroke="#000" stroke-opacity="0.8" stroke-width="1.7"/>
<path d="M1169.5,831.8L1174.4,840.9L1169.5,850.0L1164.6,840.9Z" fill="#000" fill-opacity="0.67" stroke="#000" stroke-opacity="0.8" stroke-width="1.7"/>
<path d="M1171.9,831.8L1176.8,840.9L1171.9,850.0L1167.0,840.9Z" fill="#000" fill-opacity="0.67" stroke="#000" stroke-opacity="0.8" stroke-width="1.7"/>
<path d="M1173.9,831.8L1178.8,840.9L1173.9,850.0L1169.0,840.9Z" fill="#000" fill-opacity="0.67" stroke="#000" stroke-opacity="0.8" stroke-width="1.7"/>
<path d="M1175.3,831.8L1180.2,840.9L1175.3,850.0L1170.4,840.9Z" fill="#000" fill-opacity="0.67" stroke="#000" stroke-opacity="0.8" stroke-width="1.7"/>
<path d="M1177.2,831.8L1182.1,840.9L1177.2,850.0L1172.3,840.9Z" fill="#000" fill-opacity="0.67" stroke="#000" stroke-opacity="0.8" stroke-width="1.7"/>
<path d="M1179.5,831.8L1184.4,840.9L1179.5,850.0L1174.6,840.9Z" fill="#000" fill-opacity="0.67" stroke="#000" stroke-opacity="0.8" stroke-width="1.7"/>
<path d="M1180.5,831.8L1185.4,840.9L1180.5,850.0L1175.6,840.9Z" fill="#000" fill-opacity="0.67" stroke="#000" stroke-opacity="0.8" stroke-width="1.7"/>
<path d="M1181.3,831.8L1186.2,840.9L1181.3,850.0L1176.4,840.9Z" fill="#000" fill-opacity="0.67" stroke="#000" stroke-opacity="0.8" stroke-width="1.7"/>
<path d="M1182.2,831.7L1187.1,840.8L1182.2,849.9L1177.3,840.8Z" fill="#000" fill-opacity="0.67" stroke="#000" stroke-opacity="0.8" stroke-width="1.7"/>
<path d="M1183.0,831.7L1187.9,840.8L1183.0,849.9L1178.1,840.8Z" fill="#000" fill-opacity="0.67" stroke="#000" stroke-opacity="0.8" stroke-width="1.7"/>
<path d="M1183.9,831.7L1188.8,840.8L1183.9,849.9L1179.0,840.8Z" fill="#000" fill-opacity="0.67" stroke="#000" stroke-opacity="0.8" stroke-width="1.7"/>
<path d="M1186.3,831.7L1191.2,840.8L1186.3,849.9L1181.4,840.8Z" fill="#000" fill-opacity="0.67" stroke="#000" stroke-opacity="0.8" stroke-width="1.7"/>
<path d="M1188.7,831.7L1193.6,840.8L1188.7,849.9L1183.8,840.8Z" fill="#000" fill-opacity="0.67" stroke="#000" stroke-opacity="0.8" stroke-width="1.7"/>
<path d="M1191.1,831.7L1196.0,840.8L1191.1,849.9L1186.2,840.8Z" fill="#000" fill-opacity="0.67" stroke="#000" stroke-opacity="0.8" stroke-width="1.7"/>
<path d="M1193.9,831.7L1198.8,840.8L1193.9,849.9L1189.0,840.8Z" fill="#000" fill-opacity="0.67" stroke="#000" stroke-opacity="0.8" stroke-width="1.7"/>
<path d="M1197.3,831.7L1202.2,840.8L1197.3,849.9L1192.4,840.8Z" fill="#000" fill-opacity="0.67" stroke="#000" stroke-opacity="0.8" stroke-width="1.7"/>
<path d="M1199.2,831.7L1204.1,840.8L1199.2,849.9L1194.3,840.8Z" fill="#000" fill-opacity="0.67" stroke="#000" stroke-opacity="0.8" stroke-width="1.7"/>
<path d="M1201.2,831.7L1206.1,840.8L1201.2,849.9L1196.3,840.8Z" fill="#000" fill-opacity="0.67" stroke="#000" stroke-opacity="0.8" stroke-width="1.7"/>
<path d="M1201.2,831.7L1206.1,840.8L1201.2,849.9L1196.3,840.8Z" fill="#000" fill-opacity="0.67" stroke="#000" stroke-opacity="0.8" stroke-width="1.7"/>
<path d="M1201.2,831.7L1206.1,840.8L1201.2,849.9L1196.3,840.8Z" fill="#000" fill-opacity="0.67" stroke="#000" stroke-opacity="0.8" stroke-width="1.7"/>
<path d="M1201.2,831.7L1206.1,840.8L1201.2,849.9L1196.3,840.8Z" fill="#000" fill-opacity="0.67" stroke="#000" stroke-opacity="0.8" stroke-width="1.7"/>
<path d="M1201.2,831.7L1206.1,840.8L1201.2,849.9L1196.3,840.8Z" fill="#000" fill-opacity="0.67" stroke="#000" stroke-opacity="0.8" stroke-width="1.7"/>
<path d="M1201.2,831.7L1206.1,840.8L1201.2,849.9L1196.3,840.8Z" fill="#000" fill-opacity="0.67" stroke="#000" stroke-opacity="0.8" stroke-width="1.7"/>
</g>
<g clip-path="url(#ax)"><path d="M476.60,950.00 L476.60,778.80 C477.10,771.22 478.48,747.55 479.60,733.30 C480.72,719.05 481.88,706.63 483.30,693.30 C484.72,679.97 486.53,666.63 488.10,653.30 C489.67,639.97 491.05,626.63 492.70,613.30 C494.35,599.97 496.75,582.20 498.00,573.30 C499.25,564.40 499.23,566.18 500.20,559.90 C501.17,553.62 502.58,543.68 503.80,535.60 C505.02,527.52 506.20,519.48 507.50,511.40 C508.80,503.32 510.20,495.20 511.60,487.10 C513.00,479.00 514.42,470.90 515.90,462.80 C517.38,454.70 518.93,446.58 520.50,438.50 C522.07,430.42 524.10,420.73 525.30,414.30 C526.50,407.87 526.62,405.98 527.70,399.90 C528.78,393.82 530.25,385.17 531.80,377.80 C533.35,370.43 535.03,362.58 537.00,355.70 C538.97,348.82 541.40,341.92 543.60,336.50 C545.80,331.08 547.73,327.88 550.20,323.20 C552.67,318.52 555.57,313.07 558.40,308.40 C561.23,303.73 564.02,299.37 567.20,295.20 C570.38,291.03 574.05,286.97 577.50,283.40 C580.95,279.83 584.45,276.75 587.90,273.80 C591.35,270.85 594.68,268.32 598.20,265.70 C601.72,263.08 605.60,260.08 609.00,258.10 C612.40,256.12 615.42,254.98 618.60,253.80 C621.78,252.62 624.93,251.63 628.10,251.00 C631.27,250.37 634.43,249.85 637.60,250.00 C640.77,250.15 644.23,250.78 647.10,251.90 C649.97,253.02 652.57,254.72 654.80,256.70 C657.03,258.68 658.92,261.35 660.50,263.80 C662.08,266.25 663.20,268.53 664.30,271.40 C665.40,274.27 666.23,277.67 667.10,281.00 C667.97,284.33 668.85,288.48 669.50,291.40 C670.15,294.32 670.57,296.58 671.00,298.50 C671.43,300.42 671.92,302.17 672.10,302.90 L672.40,317.10 C672.72,318.07 673.58,320.52 674.30,322.90 C675.02,325.28 675.92,328.55 676.70,331.40 C677.48,334.25 678.27,336.82 679.00,340.00 C679.73,343.18 680.07,345.33 681.10,350.50 C682.13,355.67 683.83,364.18 685.20,371.00 C686.57,377.82 687.93,383.90 689.30,391.40 C690.67,398.90 692.03,407.80 693.40,416.00 C694.77,424.20 696.23,432.42 697.50,440.60 C698.77,448.78 699.87,456.92 701.00,465.10 C702.13,473.28 703.17,481.50 704.30,489.70 C705.43,497.90 706.58,505.92 707.80,514.30 C709.02,522.68 710.52,532.55 711.60,540.00 C712.68,547.45 713.45,552.65 714.30,559.00 C715.15,565.35 715.75,571.75 716.70,578.10 C717.65,584.45 718.90,590.75 720.00,597.10 C721.10,603.45 722.43,611.75 723.30,616.20 C724.17,620.65 724.57,621.82 725.20,623.80 C725.83,625.78 726.47,627.93 727.10,628.10 C727.73,628.27 728.35,626.47 729.00,624.80 C729.65,623.13 730.35,621.12 731.00,618.10 C731.65,615.08 732.27,610.83 732.90,606.70 C733.53,602.57 734.17,598.87 734.80,593.30 C735.43,587.73 736.15,579.80 736.70,573.30 C737.25,566.80 737.63,559.85 738.10,554.30 C738.57,548.75 738.93,546.67 739.50,540.00 C740.07,533.33 740.65,523.70 741.50,514.30 C742.35,504.90 743.57,493.83 744.60,483.60 C745.63,473.37 746.67,462.12 747.70,452.90 C748.73,443.68 749.78,435.82 750.80,428.30 C751.82,420.78 752.77,413.02 753.80,407.80 C754.83,402.58 755.97,400.88 757.00,397.00 C758.03,393.12 759.00,387.88 760.00,384.50 C761.00,381.12 762.50,378.00 763.00,376.70 C764.12,375.47 768.20,371.20 769.70,369.30 C771.20,367.40 771.28,366.30 772.00,365.30 C772.72,364.30 773.12,363.23 774.00,363.30 C774.88,363.37 776.22,364.58 777.30,365.70 C778.38,366.82 779.22,367.62 780.50,370.00 C781.78,372.38 783.47,376.12 785.00,380.00 C786.53,383.88 788.25,388.85 789.70,393.30 C791.15,397.75 792.48,402.25 793.70,406.70 C794.92,411.15 795.78,414.90 797.00,420.00 C798.22,425.10 799.78,431.75 801.00,437.30 C802.22,442.85 803.18,447.30 804.30,453.30 C805.42,459.30 806.47,465.52 807.70,473.30 C808.93,481.08 810.15,490.00 811.70,500.00 C813.25,510.00 815.00,521.08 817.00,533.30 C819.00,545.52 821.48,559.97 823.70,573.30 C825.92,586.63 828.08,599.97 830.30,613.30 C832.52,626.63 834.17,632.73 837.00,653.30 C839.83,673.87 844.25,711.70 847.30,736.70 C850.35,761.70 852.63,781.08 855.30,803.30 C857.97,825.52 860.18,846.43 863.30,870.00 C866.42,893.57 872.10,931.37 874.00,944.70 C875.90,958.03 874.58,949.12 874.70,950.00" fill="none" stroke="#ffa500" stroke-width="2.3" stroke-linejoin="round"/></g>
<rect x="188" y="105" width="1046" height="840" fill="none" stroke="#000" stroke-width="2.08"/>
<path d="M323.2,945v-16.7M323.2,105v16.7" stroke="#000" stroke-width="2.08"/>
<path d="M551.1,945v-16.7M551.1,105v16.7" stroke="#000" stroke-width="2.08"/>
<path d="M779.0,945v-16.7M779.0,105v16.7" stroke="#000" stroke-width="2.08"/>
<path d="M1006.9,945v-16.7M1006.9,105v16.7" stroke="#000" stroke-width="2.08"/>
<path d="M188,945.0h16.7" stroke="#000" stroke-width="2.08"/>
<path d="M188,525.0h16.7" stroke="#000" stroke-width="2.08"/>
<path d="M188,105.0h16.7" stroke="#000" stroke-width="2.08"/>
<path d="M188,818.6h12.5" stroke="#000" stroke-width="2.08"/>
<path d="M188,744.6h12.5" stroke="#000" stroke-width="2.08"/>
<path d="M188,692.1h12.5" stroke="#000" stroke-width="2.08"/>
<path d="M188,651.4h12.5" stroke="#000" stroke-width="2.08"/>
<path d="M188,618.2h12.5" stroke="#000" stroke-width="2.08"/>
<path d="M188,590.1h12.5" stroke="#000" stroke-width="2.08"/>
<path d="M188,565.7h12.5" stroke="#000" stroke-width="2.08"/>
<path d="M188,544.2h12.5" stroke="#000" stroke-width="2.08"/>
<path d="M188,398.6h12.5" stroke="#000" stroke-width="2.08"/>
<path d="M188,324.6h12.5" stroke="#000" stroke-width="2.08"/>
<path d="M188,272.1h12.5" stroke="#000" stroke-width="2.08"/>
<path d="M188,231.4h12.5" stroke="#000" stroke-width="2.08"/>
<path d="M188,198.2h12.5" stroke="#000" stroke-width="2.08"/>
<path d="M188,170.1h12.5" stroke="#000" stroke-width="2.08"/>
<path d="M188,145.7h12.5" stroke="#000" stroke-width="2.08"/>
<path d="M188,124.2h12.5" stroke="#000" stroke-width="2.08"/>
<path d="M1234,945.3h-16.7" stroke="#000" stroke-width="2.08"/>
<path d="M1234,800.0h-16.7" stroke="#000" stroke-width="2.08"/>
<path d="M1234,654.8h-16.7" stroke="#000" stroke-width="2.08"/>
<path d="M1234,509.5h-16.7" stroke="#000" stroke-width="2.08"/>
<path d="M1234,364.3h-16.7" stroke="#000" stroke-width="2.08"/>
<path d="M1234,219.0h-16.7" stroke="#000" stroke-width="2.08"/>
<text transform="translate(303.42,986.30) scale(0.9532,1)" font-family="Liberation Serif" font-size="33.53" fill="#000">0.5</text>
<text transform="translate(531.33,986.30) scale(0.9452,1)" font-family="Liberation Serif" font-size="33.53" fill="#000">0.6</text>
<text transform="translate(759.23,986.30) scale(0.9452,1)" font-family="Liberation Serif" font-size="33.53" fill="#000">0.7</text>
<text transform="translate(987.12,986.30) scale(0.9532,1)" font-family="Liberation Serif" font-size="33.53" fill="#000">0.8</text>
<text transform="translate(1215.02,986.30) scale(0.9532,1)" font-family="Liberation Serif" font-size="33.53" fill="#000">0.9</text>
<text transform="translate(103.98,114.70) scale(0.9619,1)" font-family="Liberation Serif" font-size="26.77" fill="#000">10</text>
<rect x="132" y="100.80" width="11.4" height="1.25" fill="#000"/>
<text transform="translate(144.61,105.80) scale(0.9425,1)" font-family="Liberation Serif" font-size="20.76" fill="#000">4</text>
<text transform="translate(103.98,534.70) scale(0.9619,1)" font-family="Liberation Serif" font-size="26.77" fill="#000">10</text>
<rect x="132" y="520.80" width="11.4" height="1.25" fill="#000"/>
<text transform="translate(143.86,525.60) scale(1.1125,1)" font-family="Liberation Serif" font-size="20.00" fill="#000">5</text>
<text transform="translate(103.98,954.70) scale(0.9619,1)" font-family="Liberation Serif" font-size="26.77" fill="#000">10</text>
<rect x="132" y="940.80" width="11.4" height="1.25" fill="#000"/>
<text transform="translate(144.26,945.60) scale(1.0551,1)" font-family="Liberation Serif" font-size="19.85" fill="#000">6</text>
<text transform="translate(1263.93,953.60)" font-family="Liberation Serif" font-size="26.8">0</text>
<text transform="translate(1262.59,808.35)" font-family="Liberation Serif" font-size="26.8">1</text>
<text transform="translate(1263.79,663.10)" font-family="Liberation Serif" font-size="26.8">2</text>
<text transform="translate(1263.66,517.85)" font-family="Liberation Serif" font-size="26.8">3</text>
<text transform="translate(1264.46,372.60)" font-family="Liberation Serif" font-size="26.8">4</text>
<text transform="translate(1263.39,227.35)" font-family="Liberation Serif" font-size="26.8">5</text>
<text transform="translate(653.86,1019.90) scale(1.0247,1)" font-family="Liberation Serif" font-size="33.85" fill="#0000ff">Mr</text>
<path d="M700.6,1023.6 L712.2,997.4" stroke="#0000ff" stroke-width="2.3" stroke-linecap="butt"/>
<text transform="translate(714.74,1019.90) scale(1.0394,1)" font-family="Liberation Serif" font-size="33.85" fill="#0000ff">M</text>
<circle cx="755.6" cy="1017.5" r="7.9" fill="none" stroke="#0000ff" stroke-width="1.2"/><circle cx="755.6" cy="1017.5" r="1.9" fill="#0000ff"/>
<text transform="translate(94.20,640.85) rotate(-90) scale(1.0206,1)" font-family="Liberation Serif" font-size="34.15" fill="#0000ff">Number fraction</text>
<text transform="translate(1309.30,708.03) rotate(-90) scale(1.0065,1)" font-family="Liberation Serif" font-size="34.15" fill="#0000ff">Log Neutron Density</text>
<text transform="translate(1309.30,407.54) rotate(-90) scale(0.8788,1)" font-family="Liberation Serif" font-size="33.91" fill="#0000ff">(</text>
<path d="M1312.9,394.6 L1286,382" stroke="#0000ff" stroke-width="1.7"/>
<text transform="translate(1309.30,379.29) rotate(-90) scale(0.9913,1)" font-family="Liberation Serif" font-size="32.55" fill="#0000ff">cc</text>
<text transform="translate(1309.30,350.89) rotate(-90) scale(0.8733,1)" font-family="Liberation Serif" font-size="33.91" fill="#0000ff">)</text>
<rect x="1322" y="631" width="117" height="240.5" fill="#fff" stroke="#000" stroke-width="2"/>
<path d="M1329.3,649H1378.9" stroke="#0000ff" stroke-opacity="0.67" stroke-width="4.17" stroke-dasharray="6.25 10.4 2.08 10.4" stroke-dashoffset="-1.6"/>
<text transform="translate(1395.13,657.00) scale(1.0558,1)" font-family="Liberation Serif" font-style="italic" font-size="24.2">Na</text>
<path d="M1329.3,683.2H1378.9" stroke="#ff0000" stroke-opacity="0.67" stroke-width="4.17"/>
<rect x="1348" y="677.2" width="12" height="12" rx="3.6" fill="#ff0000" fill-opacity="0.67" stroke="#000" stroke-opacity="0.72" stroke-width="2"/>
<text transform="translate(1395.76,691.20) scale(1.0946,1)" font-family="Liberation Serif" font-style="italic" font-size="24.2">Mg</text>
<path d="M1329.3,717.1H1378.9" stroke="#0000ff" stroke-opacity="0.67" stroke-width="4.17"/>
<rect x="1348" y="711.1" width="12" height="12" fill="#0000ff" fill-opacity="0.67" stroke="#000" stroke-opacity="0.8" stroke-width="1.8"/>
<text transform="translate(1396.89,725.10) scale(1.0465,1)" font-family="Liberation Serif" font-style="italic" font-size="24.2">Al</text>
<path d="M1329.3,751.8H1378.9" stroke="#000" stroke-opacity="0.67" stroke-width="4.17" stroke-dasharray="12.5 12.5" stroke-dashoffset="-1.7"/>
<text transform="translate(1395.43,759.80) scale(1.0963,1)" font-family="Liberation Serif" font-style="italic" font-size="24.2">Si</text>
<path d="M1329.3,786H1378.9" stroke="#ff0000" stroke-opacity="0.67" stroke-width="4.17" stroke-dasharray="2.08 6.25" stroke-dashoffset="-1.7"/>
<path d="M1348,786h12M1354,780v12" stroke="#ff0000" stroke-opacity="0.67" stroke-width="2.1"/>
<text transform="translate(1395.47,794.00) scale(0.9482,1)" font-family="Liberation Serif" font-style="italic" font-size="24.2">S</text>
<path d="M1329.3,819.7H1378.9" stroke="#000" stroke-opacity="0.67" stroke-width="4.17"/>
<path d="M1354,810.6L1358.9,819.7L1354,828.8000000000001L1349.1,819.7Z" fill="#000" fill-opacity="0.67" stroke="#000" stroke-opacity="0.8" stroke-width="1.7"/>
<text transform="translate(1393.29,827.70) scale(0.9879,1)" font-family="Liberation Serif" font-style="italic" font-size="24.2">Ca</text>
<path d="M1329.3,854.6H1378.9" stroke="#0000ff" stroke-opacity="0.67" stroke-width="4.17"/>
<circle cx="1354" cy="854.6" r="3.1" fill="#0000ff" fill-opacity="0.67" stroke="#0000ff" stroke-opacity="0.67" stroke-width="0.8"/>
<text transform="translate(1393.99,862.60) scale(1.0858,1)" font-family="Liberation Serif" font-style="italic" font-size="24.2">Ti</text>
</svg>
</body></html>
